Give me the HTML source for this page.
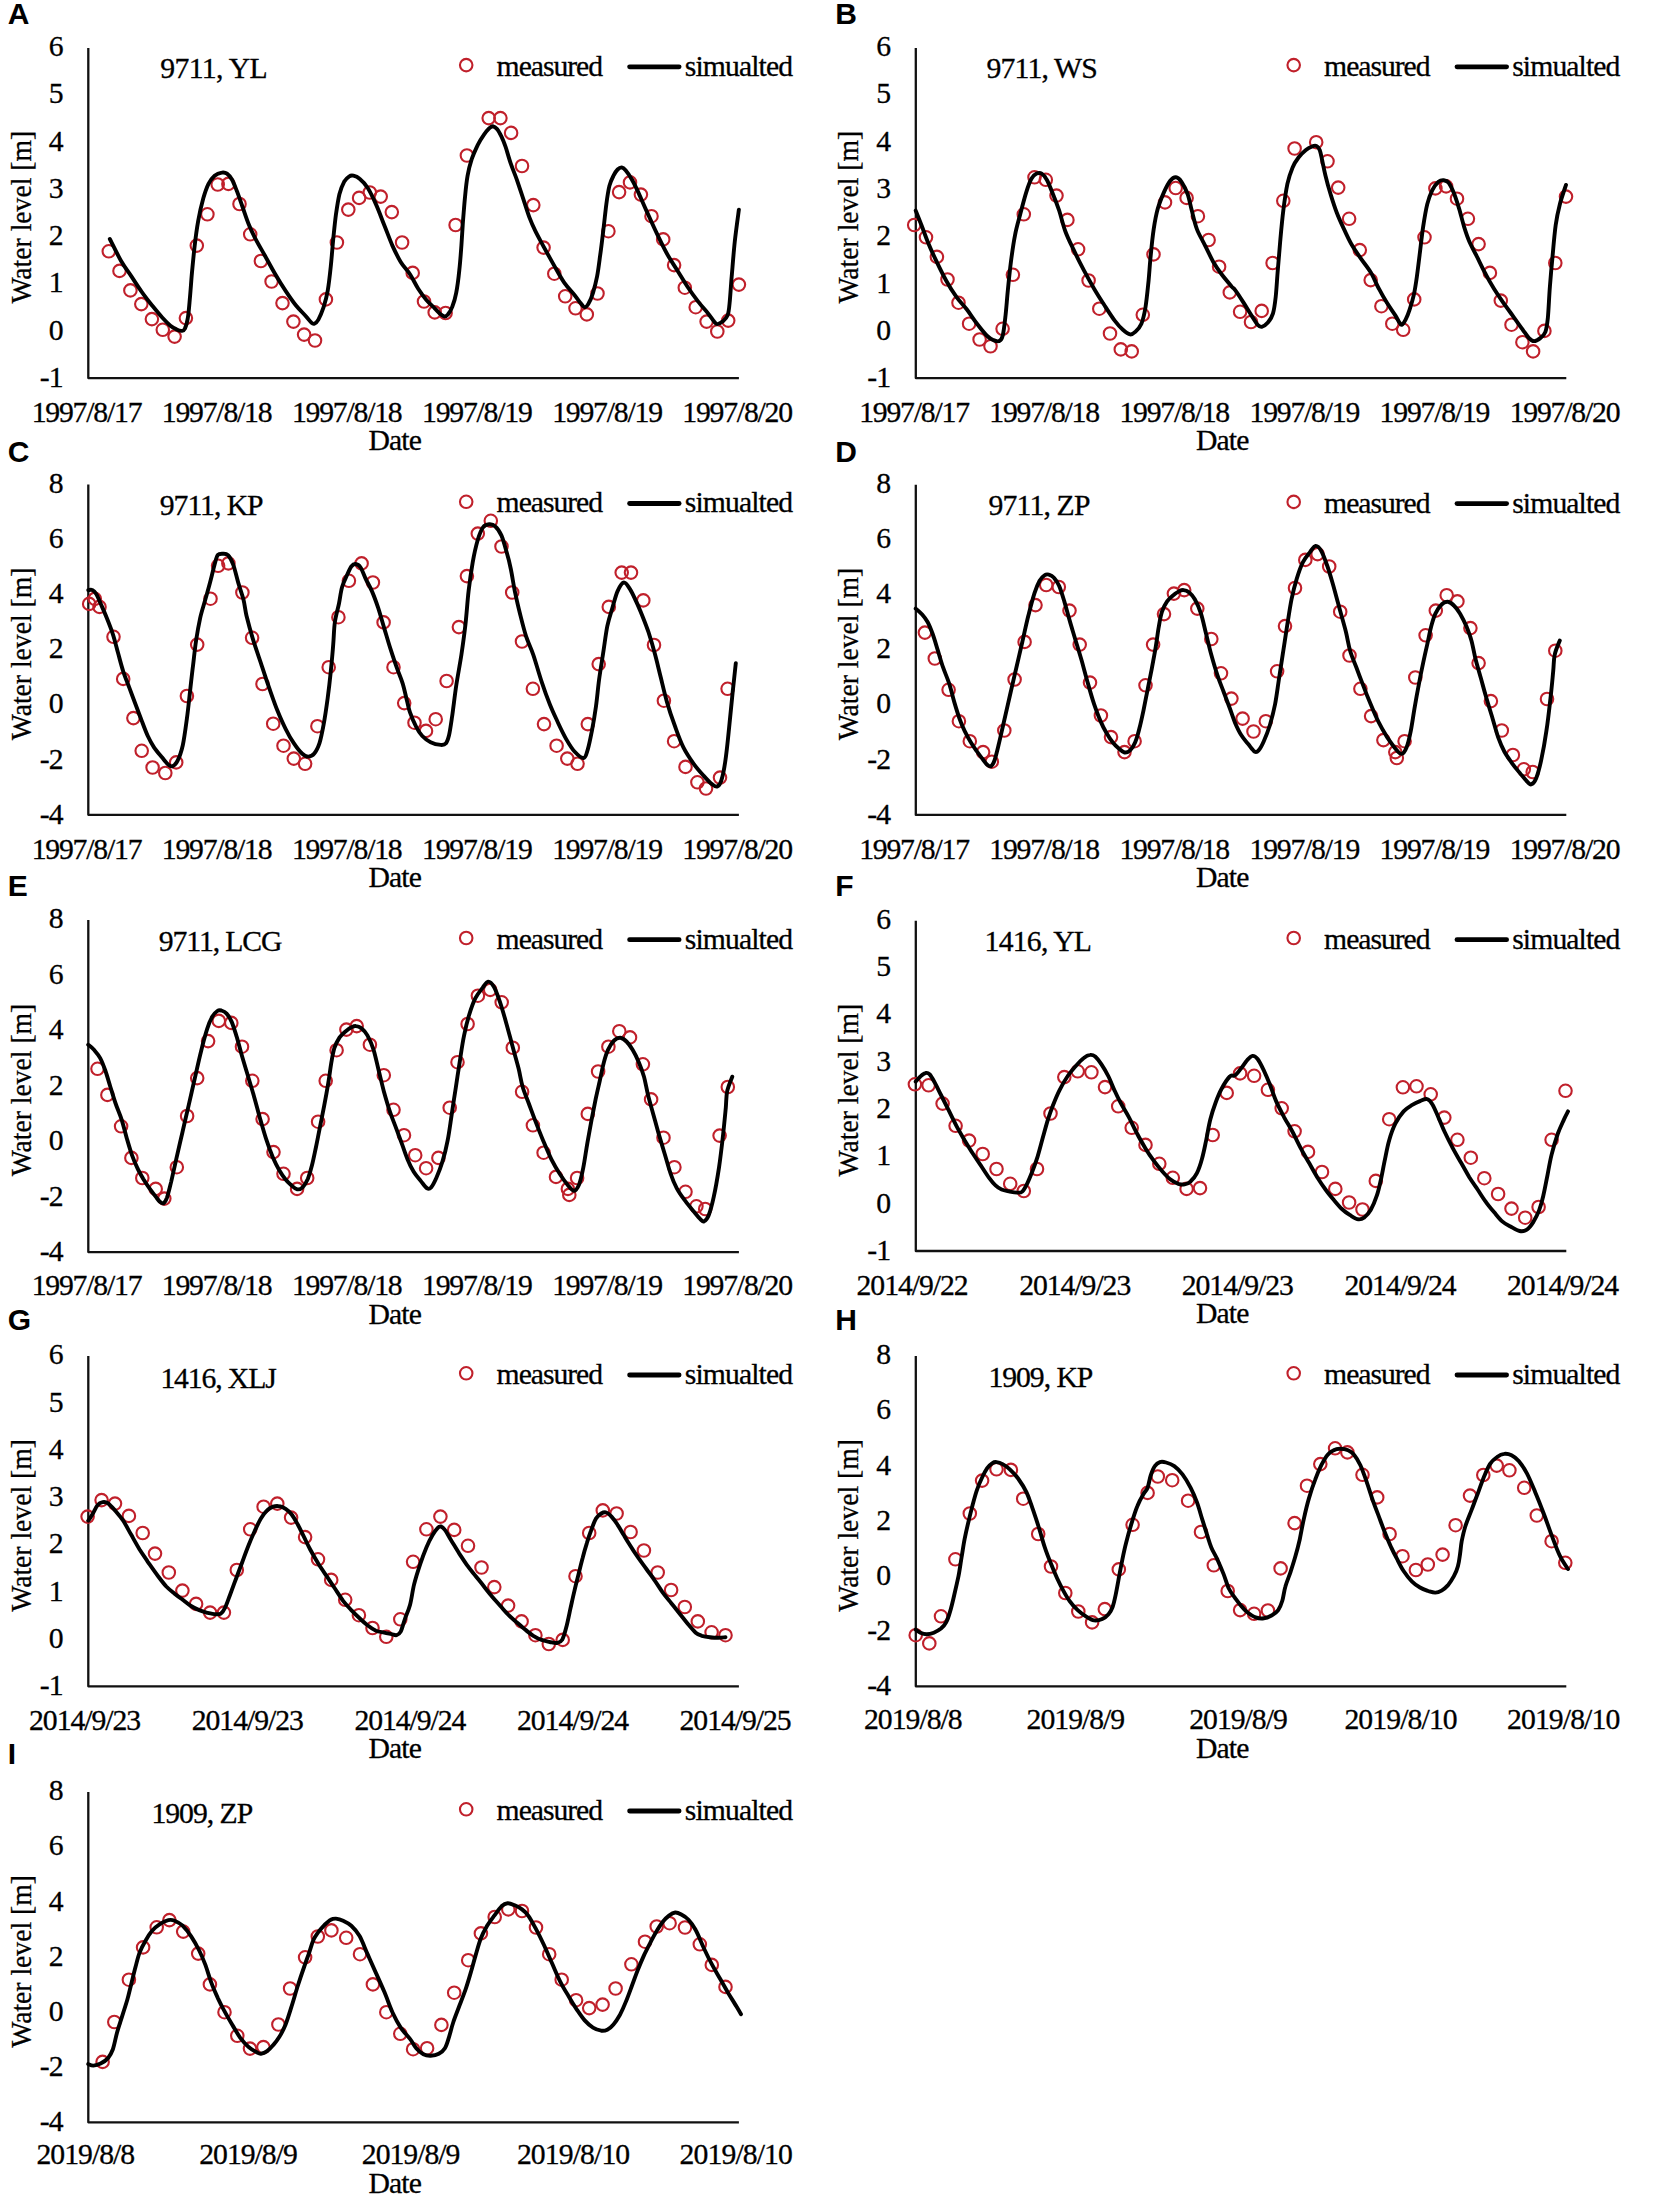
<!DOCTYPE html>
<html lang="en"><head><meta charset="utf-8"><title>Water level: measured vs simulated</title>
<style>html,body{margin:0;padding:0;background:#fff}svg{display:block}text{font-family:"Liberation Serif", "Times New Roman", Times, serif;font-size:29.7px;fill:#000;letter-spacing:-0.9px;stroke:#000;stroke-width:0.3px}.pl{font-family:"Liberation Sans", Arial, Helvetica, sans-serif;font-weight:700;font-size:30px;letter-spacing:0;stroke:none}.ax{fill:none;stroke:#111;stroke-width:2.3;stroke-linejoin:round}.cv{fill:none;stroke:#000;stroke-width:3.9;stroke-linejoin:round;stroke-linecap:round}.lg{stroke-width:4.8}.mk{fill:none;stroke:#c0202b;stroke-width:2.1}</style></head><body>
<svg width="1654" height="2195" viewBox="0 0 1654 2195">
<rect width="1654" height="2195" fill="#fff"/>
<g id="panel-A">
<text class="pl" x="7.8" y="24.2">A</text>
<path class="ax" d="M88.3 47.9V378.1H738.9"/>
<text x="62.6" y="56" text-anchor="end">6</text>
<text x="62.6" y="103.2" text-anchor="end">5</text>
<text x="62.6" y="150.5" text-anchor="end">4</text>
<text x="62.6" y="197.8" text-anchor="end">3</text>
<text x="62.6" y="245.1" text-anchor="end">2</text>
<text x="62.6" y="292.4" text-anchor="end">1</text>
<text x="62.6" y="339.7" text-anchor="end">0</text>
<text x="62.6" y="386.9" text-anchor="end">-1</text>
<text transform="translate(30.7 217.2) rotate(-90)" text-anchor="middle" textLength="172.6" lengthAdjust="spacingAndGlyphs" style="font-size:29px;letter-spacing:0">Water level [m]</text>
<text x="86.5" y="421.8" text-anchor="middle" style="letter-spacing:-1.2px">1997/8/17</text>
<text x="216.6" y="421.8" text-anchor="middle" style="letter-spacing:-1.2px">1997/8/18</text>
<text x="346.7" y="421.8" text-anchor="middle" style="letter-spacing:-1.2px">1997/8/18</text>
<text x="476.8" y="421.8" text-anchor="middle" style="letter-spacing:-1.2px">1997/8/19</text>
<text x="607" y="421.8" text-anchor="middle" style="letter-spacing:-1.2px">1997/8/19</text>
<text x="737.1" y="421.8" text-anchor="middle" style="letter-spacing:-1.2px">1997/8/20</text>
<text x="368.5" y="449.8">Date</text>
<text id="tA" x="160.2" y="78.4" style="letter-spacing:-0.586px">9711, YL</text>
<circle class="mk" cx="466.2" cy="65.1" r="6.25"/>
<text x="496.6" y="75.7" style="letter-spacing:-1.05px">measured</text>
<path class="cv lg" d="M629.6 66.8H679.1"/>
<text x="684.8" y="75.7">simualted</text>
<g class="mk"><circle cx="108.8" cy="251.3" r="6.25"/><circle cx="119.5" cy="270.9" r="6.25"/><circle cx="130.4" cy="290.4" r="6.25"/><circle cx="141.3" cy="304.1" r="6.25"/><circle cx="151.9" cy="319.1" r="6.25"/><circle cx="162.8" cy="329.8" r="6.25"/><circle cx="174.6" cy="336.6" r="6.25"/><circle cx="185.9" cy="318.1" r="6.25"/><circle cx="196.8" cy="245.6" r="6.25"/><circle cx="207.4" cy="214.3" r="6.25"/><circle cx="217.7" cy="184.5" r="6.25"/><circle cx="228.4" cy="183.9" r="6.25"/><circle cx="239.5" cy="204" r="6.25"/><circle cx="250.2" cy="234.3" r="6.25"/><circle cx="260.9" cy="261" r="6.25"/><circle cx="271.6" cy="281.5" r="6.25"/><circle cx="282.5" cy="303.1" r="6.25"/><circle cx="293.4" cy="321.6" r="6.25"/><circle cx="304.1" cy="334.6" r="6.25"/><circle cx="315" cy="340.5" r="6.25"/><circle cx="325.9" cy="299.4" r="6.25"/><circle cx="336.9" cy="242.5" r="6.25"/><circle cx="348.3" cy="209.6" r="6.25"/><circle cx="359.1" cy="197.9" r="6.25"/><circle cx="369.8" cy="192.5" r="6.25"/><circle cx="380.7" cy="196.6" r="6.25"/><circle cx="391.8" cy="212.1" r="6.25"/><circle cx="402.1" cy="242.5" r="6.25"/><circle cx="412.7" cy="272.9" r="6.25"/><circle cx="424" cy="301.5" r="6.25"/><circle cx="434.7" cy="312.4" r="6.25"/><circle cx="445.6" cy="313" r="6.25"/><circle cx="455.6" cy="225" r="6.25"/><circle cx="466.9" cy="155.5" r="6.25"/><circle cx="488.7" cy="118.1" r="6.25"/><circle cx="500.4" cy="118.1" r="6.25"/><circle cx="511.1" cy="132.9" r="6.25"/><circle cx="522" cy="166" r="6.25"/><circle cx="533.3" cy="205.1" r="6.25"/><circle cx="543.6" cy="247.6" r="6.25"/><circle cx="554.3" cy="273.7" r="6.25"/><circle cx="565.2" cy="296.3" r="6.25"/><circle cx="575.5" cy="308.3" r="6.25"/><circle cx="586.8" cy="314.4" r="6.25"/><circle cx="597.5" cy="293.5" r="6.25"/><circle cx="608.4" cy="231.2" r="6.25"/><circle cx="619.1" cy="192.1" r="6.25"/><circle cx="630" cy="182.4" r="6.25"/><circle cx="640.9" cy="194.6" r="6.25"/><circle cx="651.5" cy="216.2" r="6.25"/><circle cx="663.2" cy="239.4" r="6.25"/><circle cx="674.1" cy="265.1" r="6.25"/><circle cx="684.8" cy="287.7" r="6.25"/><circle cx="695.7" cy="307.2" r="6.25"/><circle cx="706.6" cy="321.6" r="6.25"/><circle cx="717.3" cy="331.5" r="6.25"/><circle cx="728.2" cy="320.6" r="6.25"/><circle cx="738.9" cy="284.6" r="6.25"/></g>
<path class="cv" d="M109.8 239C111.7 242.6 117.5 254.7 121.1 261C124.7 267.2 128 271.3 131.4 276.4C134.8 281.5 138.2 287 141.7 291.8C145.1 296.6 148.5 300.9 151.9 305.2C155.4 309.5 159.1 314.1 162.2 317.5C165.3 320.9 168.1 323.7 170.4 325.7C172.8 327.7 174.7 328.6 176.6 329.4C178.5 330.3 180.4 331 181.8 330.9C183.1 330.8 183.8 331 184.8 328.8C185.9 326.6 187.1 322.8 187.9 317.5C188.8 312.2 189.3 304.5 190 296.9C190.7 289.4 191.2 280.9 192 272.3C192.8 263.7 193.7 254.1 194.7 245.6C195.7 237 196.8 228.8 198.2 220.9C199.6 213 201.6 204.4 203.3 198.3C205.1 192.1 206.6 187.7 208.5 183.9C210.4 180.1 212.4 177.6 214.6 175.7C216.9 173.8 219.8 172.9 221.8 172.6C223.9 172.2 225.3 172.4 227 173.6C228.7 174.8 230.4 176.7 232.1 179.8C233.8 182.9 235.5 187.7 237.3 192.1C239 196.6 240.5 201.2 242.4 206.5C244.3 211.8 246.5 218.8 248.6 224C250.6 229.1 252 232 254.7 237.3C257.5 242.7 261.6 249.7 265 255.8C268.4 262 271.9 268.5 275.3 274.3C278.7 280.2 282.1 285.7 285.6 290.8C289 295.9 292.4 300.9 295.8 305.2C299.3 309.5 303.6 313.6 306.1 316.5C308.7 319.4 309.9 321.4 311.3 322.6C312.6 323.8 313.1 324.2 314.3 323.7C315.5 323.2 316.9 322.3 318.4 319.6C320 316.8 322 312 323.6 307.2C325.1 302.4 326.5 297.6 327.7 290.8C328.9 283.9 329.9 274.7 330.8 266.1C331.7 257.6 332.4 248 333.2 239.4C334.1 230.8 334.9 222.3 335.9 214.7C337 207.2 338.1 199.7 339.4 194.2C340.8 188.7 342.5 184.8 344.1 181.8C345.8 178.9 347.7 177.3 349.3 176.3C350.8 175.3 351.7 175.3 353.4 175.7C355.1 176.1 357.2 176.7 359.6 178.8C362 180.8 365 183.7 367.8 188C370.5 192.3 373.3 198.3 376 204.4C378.8 210.6 381.5 218.2 384.2 225C387 231.9 389.7 239.4 392.4 245.6C395.2 251.7 397.8 257.2 400.7 262C403.6 266.8 407.1 269.9 410 274.3C412.9 278.8 415.5 284.4 418.2 288.7C421 293 423.7 296.8 426.4 300C429.2 303.3 432.3 305.9 434.7 308.3C437.1 310.7 439.2 313.1 440.8 314.4C442.5 315.8 443.3 316.5 444.5 316.5C445.7 316.5 446.8 316 448 314.4C449.3 312.9 450.8 310.8 452.1 307.2C453.5 303.6 455.1 299 456.2 292.8C457.4 286.7 458.5 278.1 459.3 270.2C460.2 262.4 460.8 253.8 461.4 245.6C462 237.3 462.4 229.1 463 220.9C463.7 212.7 464.3 203.8 465.1 196.2C465.8 188.7 466.5 181.8 467.6 175.7C468.7 169.5 470 164.4 471.7 159.2C473.4 154.1 475.8 149 477.8 144.8C479.9 140.7 482.1 137.3 484 134.6C485.9 131.8 487.7 129.8 489.1 128.4C490.6 127 491.5 126.2 492.8 126.3C494.2 126.5 495.9 127.7 497.4 129.4C498.8 131.1 500.1 133.7 501.5 136.6C502.9 139.5 504 142.4 505.6 146.9C507.1 151.3 508.8 157.9 510.7 163.3C512.6 168.8 514.8 174 516.9 179.8C518.9 185.6 521 192.1 523.1 198.3C525.1 204.4 527.2 211.3 529.2 216.8C531.3 222.3 533 226.2 535.4 231.2C537.8 236.1 540.5 240.9 543.6 246.6C546.7 252.2 550.5 259.1 553.9 265.1C557.3 271.1 560.7 277.6 564.2 282.6C567.6 287.5 571.7 291.5 574.5 294.9C577.2 298.3 578.9 301.1 580.6 303.1C582.3 305.2 583.4 307.2 584.7 307.2C586.1 307.2 587.5 305.5 588.8 303.1C590.2 300.7 591.6 297.3 593 292.8C594.3 288.4 595.9 282.6 597.1 276.4C598.3 270.2 599.1 263.4 600.1 255.8C601.2 248.3 602.2 239.7 603.2 231.2C604.3 222.6 605.3 212 606.3 204.4C607.3 196.9 608.2 190.7 609.4 185.9C610.6 181.2 612.1 178.4 613.5 175.7C614.9 172.9 616.2 170.9 617.6 169.5C619 168.1 620.4 167.3 621.7 167.4C623.1 167.6 624.1 168.5 625.8 170.5C627.6 172.6 630 176.2 632 179.8C634.1 183.4 635.8 187 638.2 192.1C640.6 197.3 643.3 203.8 646.4 210.6C649.5 217.5 653.2 226 656.7 233.2C660.1 240.4 663.5 247.6 667 253.8C670.4 259.9 673.8 264.7 677.2 270.2C680.7 275.7 684.1 281.5 687.5 286.7C690.9 291.8 694.4 296.6 697.8 301.1C701.2 305.5 705.3 310 708.1 313.4C710.8 316.8 712.7 319.8 714.2 321.6C715.8 323.4 716 324.1 717.3 324.1C718.7 324.1 720.7 323.1 722.5 321.6C724.2 320.2 726.4 318.5 727.6 315.4C728.8 312.4 729 309.6 729.6 303.1C730.3 296.6 730.8 286.7 731.7 276.4C732.6 266.1 733.6 252.6 734.8 241.4C736 230.3 738.2 214.9 738.9 209.6"/>
</g>
<g id="panel-B">
<text class="pl" x="835.2" y="24.2">B</text>
<path class="ax" d="M915.8 47.9V378.1H1566.3"/>
<text x="890.1" y="56" text-anchor="end">6</text>
<text x="890.1" y="103.3" text-anchor="end">5</text>
<text x="890.1" y="150.6" text-anchor="end">4</text>
<text x="890.1" y="197.9" text-anchor="end">3</text>
<text x="890.1" y="245.2" text-anchor="end">2</text>
<text x="890.1" y="292.5" text-anchor="end">1</text>
<text x="890.1" y="339.8" text-anchor="end">0</text>
<text x="890.1" y="387" text-anchor="end">-1</text>
<text transform="translate(858.1 217.2) rotate(-90)" text-anchor="middle" textLength="172.6" lengthAdjust="spacingAndGlyphs" style="font-size:29px;letter-spacing:0">Water level [m]</text>
<text x="914" y="421.8" text-anchor="middle" style="letter-spacing:-1.2px">1997/8/17</text>
<text x="1044.1" y="421.8" text-anchor="middle" style="letter-spacing:-1.2px">1997/8/18</text>
<text x="1174.2" y="421.8" text-anchor="middle" style="letter-spacing:-1.2px">1997/8/18</text>
<text x="1304.3" y="421.8" text-anchor="middle" style="letter-spacing:-1.2px">1997/8/19</text>
<text x="1434.4" y="421.8" text-anchor="middle" style="letter-spacing:-1.2px">1997/8/19</text>
<text x="1564.5" y="421.8" text-anchor="middle" style="letter-spacing:-1.2px">1997/8/20</text>
<text x="1196" y="449.9">Date</text>
<text id="tB" x="986.6" y="78.4" style="letter-spacing:-0.857px">9711, WS</text>
<circle class="mk" cx="1293.7" cy="65.1" r="6.25"/>
<text x="1324.1" y="75.8" style="letter-spacing:-1.05px">measured</text>
<path class="cv lg" d="M1457 66.8H1506.6"/>
<text x="1512.2" y="75.8">simualted</text>
<g class="mk"><circle cx="914.2" cy="225" r="6.25"/><circle cx="926" cy="237.3" r="6.25"/><circle cx="936.9" cy="256.9" r="6.25"/><circle cx="947.5" cy="279.5" r="6.25"/><circle cx="958.5" cy="302.7" r="6.25"/><circle cx="969.1" cy="323.7" r="6.25"/><circle cx="979.6" cy="339.5" r="6.25"/><circle cx="990.5" cy="346.3" r="6.25"/><circle cx="1002.6" cy="328.8" r="6.25"/><circle cx="1012.9" cy="274.8" r="6.25"/><circle cx="1023.8" cy="214.3" r="6.25"/><circle cx="1034.5" cy="177.3" r="6.25"/><circle cx="1045.8" cy="179.8" r="6.25"/><circle cx="1056.5" cy="195.6" r="6.25"/><circle cx="1067.4" cy="219.9" r="6.25"/><circle cx="1078.1" cy="249.3" r="6.25"/><circle cx="1088.6" cy="280.5" r="6.25"/><circle cx="1099.3" cy="308.7" r="6.25"/><circle cx="1110" cy="333.5" r="6.25"/><circle cx="1120.8" cy="349.4" r="6.25"/><circle cx="1131.7" cy="351.4" r="6.25"/><circle cx="1142.8" cy="314.8" r="6.25"/><circle cx="1153.5" cy="254.4" r="6.25"/><circle cx="1165" cy="202.4" r="6.25"/><circle cx="1175.7" cy="188" r="6.25"/><circle cx="1186.6" cy="197.9" r="6.25"/><circle cx="1197.9" cy="216.2" r="6.25"/><circle cx="1208.6" cy="240" r="6.25"/><circle cx="1219.1" cy="266.7" r="6.25"/><circle cx="1229.8" cy="292.4" r="6.25"/><circle cx="1240.1" cy="311.8" r="6.25"/><circle cx="1251" cy="322" r="6.25"/><circle cx="1261.7" cy="310.9" r="6.25"/><circle cx="1272.6" cy="263" r="6.25"/><circle cx="1283.3" cy="200.8" r="6.25"/><circle cx="1294.6" cy="148.5" r="6.25"/><circle cx="1316.2" cy="142.2" r="6.25"/><circle cx="1327.5" cy="161.3" r="6.25"/><circle cx="1338.2" cy="187.6" r="6.25"/><circle cx="1349.1" cy="218.8" r="6.25"/><circle cx="1359.8" cy="250.1" r="6.25"/><circle cx="1370.7" cy="280.1" r="6.25"/><circle cx="1381.4" cy="306.2" r="6.25"/><circle cx="1392.3" cy="323.7" r="6.25"/><circle cx="1403.2" cy="329.8" r="6.25"/><circle cx="1414.2" cy="299.4" r="6.25"/><circle cx="1424.5" cy="237.3" r="6.25"/><circle cx="1435.4" cy="188.4" r="6.25"/><circle cx="1446.1" cy="186.4" r="6.25"/><circle cx="1457" cy="198.7" r="6.25"/><circle cx="1467.9" cy="218.8" r="6.25"/><circle cx="1478.6" cy="244.1" r="6.25"/><circle cx="1489.9" cy="272.9" r="6.25"/><circle cx="1500.8" cy="300.6" r="6.25"/><circle cx="1511.5" cy="324.7" r="6.25"/><circle cx="1522.4" cy="342.2" r="6.25"/><circle cx="1533.1" cy="351.4" r="6.25"/><circle cx="1544.4" cy="330.9" r="6.25"/><circle cx="1555.3" cy="263" r="6.25"/><circle cx="1566" cy="196.6" r="6.25"/></g>
<path class="cv" d="M915.7 210.6C916.6 213 919.5 219.9 921.4 225C923.4 230.1 925.2 235.6 927.6 241.4C930 247.3 932.7 253.4 935.8 259.9C938.9 266.5 942.7 274.3 946.1 280.5C949.5 286.7 953 292.2 956.4 296.9C959.8 301.7 963.2 304.8 966.7 309.3C970.1 313.7 973.5 319.2 977 323.7C980.4 328.1 984.5 333.3 987.2 336C990 338.8 991.4 339.3 993.4 340.1C995.4 341 997.6 341.8 999.1 341.1C1000.7 340.5 1001.6 339.9 1002.6 336C1003.7 332.1 1004.5 325 1005.3 317.5C1006.2 310 1006.9 300 1007.8 290.8C1008.7 281.5 1009.7 271.3 1010.9 262C1012.1 252.8 1013.4 243.2 1015 235.3C1016.5 227.4 1018.2 221.9 1020.1 214.7C1022 207.5 1024.4 198.1 1026.3 192.1C1028.2 186.1 1029.7 181.8 1031.4 178.8C1033.1 175.7 1034.8 174.5 1036.6 173.6C1038.3 172.8 1040 172.6 1041.7 173.6C1043.4 174.6 1045 176.4 1046.8 179.8C1048.7 183.2 1050.9 189 1053 194.2C1055.1 199.3 1057.1 204.5 1059.2 210.6C1061.2 216.8 1062.9 224.7 1065.3 231.2C1067.7 237.7 1070.5 243.2 1073.6 249.7C1076.6 256.2 1080.4 263.7 1083.8 270.2C1087.3 276.7 1090.7 282.9 1094.1 288.7C1097.5 294.6 1101 299.9 1104.4 305.2C1107.8 310.5 1111.6 316.5 1114.7 320.6C1117.8 324.7 1120.3 327.5 1122.9 329.8C1125.5 332.1 1128 334 1130.1 334.4C1132.1 334.7 1133.3 333.7 1135.2 331.9C1137.1 330.1 1139.7 327.8 1141.4 323.7C1143.1 319.6 1144.3 314.4 1145.5 307.2C1146.7 300 1147.7 289.1 1148.6 280.5C1149.4 271.9 1149.8 264.4 1150.7 255.8C1151.5 247.3 1152.5 237 1153.7 229.1C1154.9 221.2 1156.1 214.7 1157.8 208.6C1159.6 202.4 1162 196.7 1164 192.1C1166.1 187.5 1168.2 183.3 1170.2 180.8C1172.2 178.3 1174 177.1 1175.9 177.3C1177.8 177.5 1179.5 179 1181.5 181.8C1183.4 184.6 1185.9 189.4 1187.7 194.2C1189.4 199 1190.2 204.8 1191.8 210.6C1193.3 216.4 1194.7 223.3 1196.9 229.1C1199.1 234.9 1202.4 240.1 1205.1 245.6C1207.9 251 1210.6 257.2 1213.3 262C1216.1 266.8 1218.5 270.2 1221.6 274.3C1224.7 278.4 1229.6 284.1 1231.8 286.7C1234.1 289.2 1233.1 287.2 1235 289.8C1236.9 292.3 1240.5 297.8 1243.2 302.1C1246 306.4 1249 311.7 1251.4 315.4C1253.8 319.2 1255.9 322.8 1257.6 324.7C1259.3 326.6 1260 327.1 1261.7 326.8C1263.4 326.4 1266 324.9 1267.9 322.6C1269.8 320.4 1271.7 317.7 1273 313.4C1274.3 309.1 1274.9 304.1 1275.7 296.9C1276.5 289.8 1277 279.5 1277.8 270.2C1278.5 261 1279.3 251.4 1280.2 241.4C1281.1 231.5 1282.1 220.2 1283.3 210.6C1284.5 201 1285.9 191.1 1287.4 183.9C1289 176.7 1290.7 171.9 1292.6 167.4C1294.4 163 1296.5 160.1 1298.7 157.2C1300.9 154.3 1303.7 151.8 1305.9 150C1308.1 148.2 1310.4 147.2 1312.1 146.5C1313.8 145.8 1314.9 145.3 1316.2 145.9C1317.5 146.4 1318.7 147.4 1319.7 150C1320.7 152.5 1321.4 157 1322.4 161.3C1323.3 165.6 1324.1 170.2 1325.5 175.7C1326.8 181.2 1328.7 188 1330.6 194.2C1332.5 200.3 1334.5 206.8 1336.8 212.7C1339 218.5 1341.4 223.6 1344 229.1C1346.5 234.6 1349.4 240.8 1352.2 245.6C1354.9 250.4 1357.3 253.4 1360.4 257.9C1363.5 262.4 1367.6 267.2 1370.7 272.3C1373.8 277.4 1376.1 283.6 1378.9 288.7C1381.6 293.9 1384.4 298.7 1387.1 303.1C1389.9 307.6 1393.3 312.2 1395.3 315.4C1397.4 318.7 1398.4 321.1 1399.5 322.6C1400.5 324.2 1400.9 325.2 1401.9 324.7C1402.9 324.2 1404.3 322.1 1405.6 319.6C1406.9 317 1408.4 313.4 1409.7 309.3C1411.1 305.2 1412.6 300.4 1413.8 294.9C1415 289.4 1415.9 283.6 1416.9 276.4C1417.9 269.2 1419 260 1420 251.7C1421 243.5 1421.9 234.9 1423.1 227.1C1424.3 219.2 1425.7 210.6 1427.2 204.4C1428.7 198.3 1430.5 193.8 1432.3 190.1C1434.2 186.3 1436.6 183.5 1438.5 181.8C1440.4 180.2 1441.9 180 1443.7 180.2C1445.4 180.4 1447.1 180.7 1448.8 182.9C1450.5 185 1452.2 188.9 1453.9 193.1C1455.6 197.4 1457.3 202.9 1459.1 208.6C1460.8 214.2 1462.5 221.6 1464.2 227.1C1465.9 232.5 1467.1 236.3 1469.3 241.4C1471.6 246.6 1474.8 252.4 1477.6 257.9C1480.3 263.4 1483 269.2 1485.8 274.3C1488.5 279.5 1491.3 284.3 1494 288.7C1496.8 293.2 1499.1 296.6 1502.2 301.1C1505.3 305.5 1509.1 310.7 1512.5 315.4C1515.9 320.2 1520 326.1 1522.8 329.8C1525.5 333.6 1527.1 336.2 1529 338.1C1530.8 340 1532.2 341.1 1534.1 341.1C1536 341.1 1538.4 339.6 1540.3 338.1C1542.1 336.5 1544.1 335.3 1545.4 331.9C1546.7 328.5 1547.1 325 1547.9 317.5C1548.6 310 1549.1 296.9 1549.9 286.7C1550.7 276.4 1551.6 266.1 1552.6 255.8C1553.5 245.6 1554.5 233.6 1555.7 225C1556.9 216.4 1558.1 211.1 1559.8 204.4C1561.5 197.8 1564.9 188.2 1566 184.9"/>
</g>
<g id="panel-C">
<text class="pl" x="7.8" y="462">C</text>
<path class="ax" d="M88.3 484.6V814.8H738.9"/>
<text x="62.6" y="492.7" text-anchor="end">8</text>
<text x="62.6" y="547.9" text-anchor="end">6</text>
<text x="62.6" y="603" text-anchor="end">4</text>
<text x="62.6" y="658.2" text-anchor="end">2</text>
<text x="62.6" y="713.4" text-anchor="end">0</text>
<text x="62.6" y="768.5" text-anchor="end">-2</text>
<text x="62.6" y="823.7" text-anchor="end">-4</text>
<text transform="translate(30.7 653.9) rotate(-90)" text-anchor="middle" textLength="172.6" lengthAdjust="spacingAndGlyphs" style="font-size:29px;letter-spacing:0">Water level [m]</text>
<text x="86.5" y="858.5" text-anchor="middle" style="letter-spacing:-1.2px">1997/8/17</text>
<text x="216.6" y="858.5" text-anchor="middle" style="letter-spacing:-1.2px">1997/8/18</text>
<text x="346.7" y="858.5" text-anchor="middle" style="letter-spacing:-1.2px">1997/8/18</text>
<text x="476.8" y="858.5" text-anchor="middle" style="letter-spacing:-1.2px">1997/8/19</text>
<text x="607" y="858.5" text-anchor="middle" style="letter-spacing:-1.2px">1997/8/19</text>
<text x="737.1" y="858.5" text-anchor="middle" style="letter-spacing:-1.2px">1997/8/20</text>
<text x="368.5" y="886.5">Date</text>
<text id="tC" x="159.8" y="515" style="letter-spacing:-1.043px">9711, KP</text>
<circle class="mk" cx="466.2" cy="501.8" r="6.25"/>
<text x="496.6" y="512.4" style="letter-spacing:-1.05px">measured</text>
<path class="cv lg" d="M629.6 503.5H679.1"/>
<text x="684.8" y="512.4">simualted</text>
<g class="mk"><circle cx="89.2" cy="603.9" r="6.25"/><circle cx="94.8" cy="598.9" r="6.25"/><circle cx="99.5" cy="606.9" r="6.25"/><circle cx="113.5" cy="636.8" r="6.25"/><circle cx="123.2" cy="678.9" r="6.25"/><circle cx="133.4" cy="718.1" r="6.25"/><circle cx="141.7" cy="750.8" r="6.25"/><circle cx="152.6" cy="767.5" r="6.25"/><circle cx="165.3" cy="773" r="6.25"/><circle cx="176.2" cy="762.4" r="6.25"/><circle cx="186.9" cy="696" r="6.25"/><circle cx="197.2" cy="644.6" r="6.25"/><circle cx="210.5" cy="598.7" r="6.25"/><circle cx="218.1" cy="565.8" r="6.25"/><circle cx="228.4" cy="563.4" r="6.25"/><circle cx="242.4" cy="592.5" r="6.25"/><circle cx="252.1" cy="637.8" r="6.25"/><circle cx="262.5" cy="684" r="6.25"/><circle cx="273.2" cy="723.7" r="6.25"/><circle cx="283.5" cy="745.7" r="6.25"/><circle cx="293.8" cy="758.6" r="6.25"/><circle cx="305.1" cy="763.8" r="6.25"/><circle cx="317.4" cy="726.2" r="6.25"/><circle cx="328.7" cy="667.2" r="6.25"/><circle cx="338.4" cy="617.2" r="6.25"/><circle cx="348.9" cy="580.8" r="6.25"/><circle cx="361.6" cy="563.4" r="6.25"/><circle cx="372.9" cy="582.5" r="6.25"/><circle cx="383.6" cy="622.4" r="6.25"/><circle cx="393.5" cy="667.2" r="6.25"/><circle cx="404.2" cy="703.1" r="6.25"/><circle cx="414.5" cy="722.7" r="6.25"/><circle cx="426" cy="730.9" r="6.25"/><circle cx="435.7" cy="719.2" r="6.25"/><circle cx="446.6" cy="681" r="6.25"/><circle cx="458.9" cy="627.1" r="6.25"/><circle cx="466.9" cy="576.1" r="6.25"/><circle cx="477.8" cy="533.6" r="6.25"/><circle cx="490.8" cy="520.8" r="6.25"/><circle cx="501.5" cy="546.5" r="6.25"/><circle cx="512.2" cy="592.5" r="6.25"/><circle cx="522" cy="641.5" r="6.25"/><circle cx="532.9" cy="688.8" r="6.25"/><circle cx="544" cy="724.1" r="6.25"/><circle cx="556.6" cy="745.7" r="6.25"/><circle cx="567.3" cy="758.6" r="6.25"/><circle cx="577.5" cy="763.8" r="6.25"/><circle cx="587.8" cy="724.1" r="6.25"/><circle cx="598.7" cy="664.1" r="6.25"/><circle cx="608.8" cy="606.9" r="6.25"/><circle cx="621.7" cy="572.6" r="6.25"/><circle cx="631" cy="572.6" r="6.25"/><circle cx="643.3" cy="600.4" r="6.25"/><circle cx="654" cy="645" r="6.25"/><circle cx="663.9" cy="700.7" r="6.25"/><circle cx="674.1" cy="741.2" r="6.25"/><circle cx="685.5" cy="766.9" r="6.25"/><circle cx="697.4" cy="782.3" r="6.25"/><circle cx="706" cy="788.5" r="6.25"/><circle cx="720" cy="777.6" r="6.25"/><circle cx="727.6" cy="688.8" r="6.25"/></g>
<path class="cv" d="M88.2 590.1C88.9 590.1 91 589.4 92.3 590.1C93.7 590.8 95.1 592 96.4 594.2C97.8 596.4 98.8 599.5 100.6 603.5C102.3 607.4 104.7 612.7 106.7 617.8C108.8 623 111 628.5 112.9 634.3C114.8 640.1 116.3 646.6 118 652.8C119.7 658.9 121.3 665.5 123.2 671.3C125.1 677.1 127.3 682.2 129.3 687.7C131.4 693.2 133.4 698.7 135.5 704.2C137.6 709.7 139.6 715.3 141.7 720.6C143.7 725.9 145.8 731.6 147.8 736C149.9 740.5 151.6 743.7 154 747.3C156.4 750.9 159.8 754.7 162.2 757.6C164.6 760.5 166.7 763.4 168.4 764.8C170.1 766.2 171 766.9 172.5 766.2C174 765.6 175.9 764.2 177.6 760.7C179.4 757.2 181.2 752.3 182.8 745.3C184.3 738.3 185.7 727.5 186.9 718.6C188.1 709.7 189 700.7 190 691.8C191 682.9 192 673.7 193.1 665.1C194.1 656.6 194.9 648.3 196.1 640.5C197.3 632.6 198.7 624.7 200.2 617.8C201.8 611 203.7 605.5 205.4 599.3C207.1 593.2 209 586.7 210.5 580.8C212.1 575 213.4 568.7 214.6 564.4C215.8 560.1 216.4 556.9 217.7 555.1C219.1 553.4 221.2 553.7 222.9 553.7C224.6 553.7 226.3 553.4 228 555.1C229.7 556.9 231.4 559.8 233.1 564.4C234.9 569 236.6 577.1 238.3 582.9C240 588.7 242 593.9 243.4 599.3C244.8 604.8 245 609.3 246.5 615.8C248.1 622.3 250.3 630.5 252.7 638.4C255.1 646.3 258.1 654.8 260.9 663.1C263.6 671.3 266.4 679.9 269.1 687.7C271.9 695.6 274.6 703.5 277.3 710.3C280.1 717.2 282.8 723.4 285.6 728.8C288.3 734.3 291 739.1 293.8 743.2C296.5 747.3 299.6 751.3 302 753.5C304.4 755.7 306.1 756.6 308.2 756.6C310.2 756.6 312.5 755.7 314.3 753.5C316.2 751.3 317.9 748 319.5 743.2C321 738.4 322.2 732.3 323.6 724.7C325 717.2 326.5 706.9 327.7 698C328.9 689.1 329.9 680.2 330.8 671.3C331.7 662.4 332.6 652.8 333.2 644.6C333.9 636.3 333.9 628.8 334.9 622C335.9 615.1 337.8 609.3 339 603.5C340.2 597.6 340.7 591.8 342.1 587C343.5 582.2 345.7 578.1 347.2 574.7C348.8 571.2 350 568.2 351.3 566.5C352.7 564.7 353.9 563.8 355.4 564C357 564.2 358.9 565 360.6 567.5C362.3 569.9 363.8 574.8 365.7 578.8C367.6 582.7 369.8 586.3 371.9 591.1C374 595.9 376 601.4 378.1 607.6C380.1 613.7 382.2 621.3 384.2 628.1C386.3 635 388.3 642.2 390.4 648.7C392.5 655.2 394.5 661.3 396.6 667.2C398.6 673 401 678.1 402.7 683.6C404.4 689.1 405.6 695.3 406.8 700.1C408.1 704.9 408.4 707.9 410 712.4C411.6 716.9 414.1 722.8 416.2 726.8C418.2 730.7 419.9 733.5 422.3 736C424.7 738.6 427.5 740.7 430.6 742.2C433.6 743.7 438.3 744.7 440.8 744.9C443.4 745.1 444.6 744.9 446 743.2C447.3 741.6 448 739.5 449.1 735C450.1 730.6 450.9 724.7 452.1 716.5C453.3 708.3 454.7 695.9 456.2 685.7C457.8 675.4 459.8 665.1 461.4 654.8C462.9 644.6 464.3 634.6 465.5 624C466.7 613.4 467.4 601.4 468.6 591.1C469.8 580.8 471.2 570.9 472.7 562.3C474.2 553.8 476.1 545.5 477.8 539.7C479.6 533.9 481.1 530 483 527.4C484.9 524.8 487.1 524.5 489.1 524.3C491.2 524.1 493.3 524.5 495.3 526.4C497.4 528.2 499.6 531.3 501.5 535.6C503.4 539.9 505.1 546.6 506.6 552.1C508.2 557.5 509.4 562 510.7 568.5C512.1 575 513.3 583.6 514.8 591.1C516.4 598.6 518.1 606.2 520 613.7C521.9 621.3 523.9 629.5 526.1 636.3C528.4 643.2 530.8 647.3 533.3 654.8C535.9 662.4 538.8 673.3 541.6 681.6C544.3 689.8 547 697.3 549.8 704.2C552.5 711 555.3 716.8 558 722.7C560.7 728.5 563.5 734.3 566.2 739.1C569 743.9 571.5 748.3 574.5 751.5C577.4 754.6 581.5 758.4 583.7 758C585.9 757.7 586.4 753.9 587.8 749.4C589.2 744.9 590.5 738.1 591.9 730.9C593.3 723.7 594.8 714.8 596 706.2C597.2 697.7 597.9 688.4 599.1 679.5C600.3 670.6 601.9 661.7 603.2 652.8C604.6 643.9 605.8 633.6 607.3 626.1C608.9 618.5 610.8 613.4 612.5 607.6C614.2 601.7 615.7 595.3 617.6 591.1C619.5 586.9 621.7 582.8 623.8 582.5C625.8 582.1 627.9 585.9 630 589.1C632 592.2 634.1 596.9 636.1 601.4C638.2 605.8 640.2 610.6 642.3 615.8C644.3 620.9 646.4 626.1 648.5 632.2C650.5 638.4 652.6 645.2 654.6 652.8C656.7 660.3 658.7 669.2 660.8 677.5C662.8 685.7 664.6 693.9 667 702.1C669.3 710.3 672.4 719.3 675.2 726.8C677.9 734.3 680.3 741.2 683.4 747.3C686.5 753.5 690.3 759 693.7 763.8C697.1 768.6 700.9 772.7 704 776.1C707 779.5 710 782.6 712.2 784.3C714.4 786.1 715.8 787.1 717.3 786.4C718.9 785.7 720.1 784.7 721.4 780.2C722.8 775.8 724.2 769.3 725.5 759.7C726.9 750.1 728.5 734 729.6 722.7C730.8 711.4 731.7 701.8 732.7 691.8C733.8 681.9 735.3 667.9 735.8 663.1"/>
</g>
<g id="panel-D">
<text class="pl" x="835.2" y="462">D</text>
<path class="ax" d="M915.8 484.7V814.9H1566.3"/>
<text x="890.1" y="492.8" text-anchor="end">8</text>
<text x="890.1" y="547.9" text-anchor="end">6</text>
<text x="890.1" y="603.1" text-anchor="end">4</text>
<text x="890.1" y="658.3" text-anchor="end">2</text>
<text x="890.1" y="713.4" text-anchor="end">0</text>
<text x="890.1" y="768.6" text-anchor="end">-2</text>
<text x="890.1" y="823.8" text-anchor="end">-4</text>
<text transform="translate(858.1 654) rotate(-90)" text-anchor="middle" textLength="172.6" lengthAdjust="spacingAndGlyphs" style="font-size:29px;letter-spacing:0">Water level [m]</text>
<text x="914" y="858.6" text-anchor="middle" style="letter-spacing:-1.2px">1997/8/17</text>
<text x="1044.1" y="858.6" text-anchor="middle" style="letter-spacing:-1.2px">1997/8/18</text>
<text x="1174.2" y="858.6" text-anchor="middle" style="letter-spacing:-1.2px">1997/8/18</text>
<text x="1304.3" y="858.6" text-anchor="middle" style="letter-spacing:-1.2px">1997/8/19</text>
<text x="1434.4" y="858.6" text-anchor="middle" style="letter-spacing:-1.2px">1997/8/19</text>
<text x="1564.5" y="858.6" text-anchor="middle" style="letter-spacing:-1.2px">1997/8/20</text>
<text x="1196" y="886.6">Date</text>
<text id="tD" x="988.4" y="515" style="letter-spacing:-0.814px">9711, ZP</text>
<circle class="mk" cx="1293.7" cy="501.9" r="6.25"/>
<text x="1324.1" y="512.5" style="letter-spacing:-1.05px">measured</text>
<path class="cv lg" d="M1457 503.6H1506.6"/>
<text x="1512.2" y="512.5">simualted</text>
<g class="mk"><circle cx="924.9" cy="632.6" r="6.25"/><circle cx="934.8" cy="658.5" r="6.25"/><circle cx="948.6" cy="689.8" r="6.25"/><circle cx="958.9" cy="721.2" r="6.25"/><circle cx="969.8" cy="741.2" r="6.25"/><circle cx="983.1" cy="752.1" r="6.25"/><circle cx="991.8" cy="761.7" r="6.25"/><circle cx="1004.3" cy="730.5" r="6.25"/><circle cx="1014.6" cy="679.5" r="6.25"/><circle cx="1024.6" cy="641.9" r="6.25"/><circle cx="1035.5" cy="605.1" r="6.25"/><circle cx="1046.2" cy="585" r="6.25"/><circle cx="1058.8" cy="587" r="6.25"/><circle cx="1069.5" cy="610.6" r="6.25"/><circle cx="1079.7" cy="644.6" r="6.25"/><circle cx="1090" cy="682.6" r="6.25"/><circle cx="1100.9" cy="715.5" r="6.25"/><circle cx="1111" cy="737.1" r="6.25"/><circle cx="1124.5" cy="752.1" r="6.25"/><circle cx="1134.6" cy="741.2" r="6.25"/><circle cx="1145.5" cy="685.3" r="6.25"/><circle cx="1153.1" cy="644.6" r="6.25"/><circle cx="1164" cy="614.1" r="6.25"/><circle cx="1173.9" cy="593.6" r="6.25"/><circle cx="1184.2" cy="590.1" r="6.25"/><circle cx="1197.3" cy="608.6" r="6.25"/><circle cx="1211.3" cy="639" r="6.25"/><circle cx="1221" cy="673.3" r="6.25"/><circle cx="1231.4" cy="698.6" r="6.25"/><circle cx="1242.6" cy="718.6" r="6.25"/><circle cx="1253.5" cy="731.5" r="6.25"/><circle cx="1265.8" cy="721.2" r="6.25"/><circle cx="1277.1" cy="671.3" r="6.25"/><circle cx="1285" cy="626.1" r="6.25"/><circle cx="1295" cy="588" r="6.25"/><circle cx="1305.3" cy="559.9" r="6.25"/><circle cx="1317.6" cy="554.1" r="6.25"/><circle cx="1329.2" cy="566.5" r="6.25"/><circle cx="1340.2" cy="611.7" r="6.25"/><circle cx="1349.5" cy="655.5" r="6.25"/><circle cx="1360.4" cy="688.8" r="6.25"/><circle cx="1371.1" cy="716.1" r="6.25"/><circle cx="1383.4" cy="740.1" r="6.25"/><circle cx="1395.3" cy="752.1" r="6.25"/><circle cx="1396.8" cy="758" r="6.25"/><circle cx="1404.6" cy="741.2" r="6.25"/><circle cx="1415.3" cy="677.5" r="6.25"/><circle cx="1425.6" cy="635.3" r="6.25"/><circle cx="1435.8" cy="610.6" r="6.25"/><circle cx="1446.7" cy="595.2" r="6.25"/><circle cx="1457.4" cy="601.4" r="6.25"/><circle cx="1470.4" cy="628.1" r="6.25"/><circle cx="1478.6" cy="663.1" r="6.25"/><circle cx="1490.9" cy="701.1" r="6.25"/><circle cx="1501.8" cy="730.5" r="6.25"/><circle cx="1512.9" cy="755" r="6.25"/><circle cx="1523.8" cy="769.3" r="6.25"/><circle cx="1532.7" cy="772" r="6.25"/><circle cx="1547" cy="699" r="6.25"/><circle cx="1555.3" cy="650.7" r="6.25"/></g>
<path class="cv" d="M915.7 608.6C916.6 609.4 919.5 611.5 921.4 613.7C923.4 616 925.7 618.5 927.6 622C929.5 625.4 931 629.5 932.8 634.3C934.5 639.1 936.2 645.2 937.9 650.7C939.6 656.2 941.1 661.7 943 667.2C944.9 672.7 947.3 677.8 949.2 683.6C951.1 689.4 952.6 696.3 954.3 702.1C956 707.9 957.8 713.8 959.5 718.6C961.2 723.4 962.7 727 964.6 730.9C966.5 734.8 968.7 738.8 970.8 742.2C972.8 745.6 974.9 748.5 977 751.5C979 754.4 981.4 757.5 983.1 759.7C984.8 761.9 985.9 763.7 987.2 764.8C988.5 765.9 989.7 766.9 990.9 766.2C992.1 765.6 993.2 764.2 994.4 760.7C995.7 757.2 997 751.6 998.5 745.3C1000.1 739 1001.8 730.9 1003.7 722.7C1005.6 714.4 1007.8 704.9 1009.8 696C1011.9 687 1013.9 678.1 1016 669.2C1018.1 660.3 1020.1 651.4 1022.2 642.5C1024.2 633.6 1026.3 624 1028.3 615.8C1030.4 607.6 1032.6 599 1034.5 593.2C1036.4 587.3 1037.9 583.9 1039.6 580.8C1041.4 577.8 1043.2 576.1 1044.8 575.1C1046.3 574.1 1047.3 574.2 1048.9 574.7C1050.4 575.1 1052.3 575.9 1054 577.8C1055.7 579.6 1057.5 582 1059.2 586C1060.9 589.9 1062.6 595.7 1064.3 601.4C1066 607 1067.6 613.4 1069.5 619.9C1071.3 626.4 1073.6 633.6 1075.6 640.5C1077.7 647.3 1079.7 653.8 1081.8 661C1083.8 668.2 1085.9 676.4 1088 683.6C1090 690.8 1092.1 698 1094.1 704.2C1096.2 710.3 1098.2 715.8 1100.3 720.6C1102.3 725.4 1104.4 729.4 1106.5 733C1108.5 736.5 1110.6 739.6 1112.6 742.2C1114.7 744.8 1116.8 746.7 1118.8 748.4C1120.8 750.1 1122.7 752.1 1124.5 752.5C1126.4 752.8 1128.3 752.1 1130.1 750.4C1131.9 748.7 1133.7 745.8 1135.2 742.2C1136.8 738.6 1138 734.2 1139.3 728.8C1140.7 723.5 1142.1 716.9 1143.5 710.3C1144.8 703.8 1146.2 696.6 1147.6 689.8C1148.9 682.9 1150.3 676.4 1151.7 669.2C1153 662 1154.6 653.8 1155.8 646.6C1157 639.4 1157.8 631.9 1158.9 626.1C1159.9 620.2 1160.6 615.8 1162 611.7C1163.3 607.6 1165.2 604.1 1167.1 601.4C1169 598.6 1171.2 596.9 1173.3 595.2C1175.3 593.5 1177.7 592 1179.4 591.1C1181.1 590.3 1182 589.9 1183.5 590.1C1185.1 590.3 1186.8 590.6 1188.7 592.1C1190.6 593.7 1192.8 595.7 1194.8 599.3C1196.9 602.9 1199.1 607.9 1201 613.7C1202.9 619.6 1204.4 627.4 1206.2 634.3C1207.9 641.1 1209.4 648 1211.3 654.8C1213.2 661.7 1215.4 669.2 1217.5 675.4C1219.5 681.6 1221.6 686.4 1223.6 691.8C1225.7 697.3 1227.9 703.2 1229.8 708.3C1231.7 713.4 1233.1 718.2 1235 722.7C1236.9 727.1 1238.9 731.4 1241.2 735C1243.4 738.6 1246.1 741.5 1248.4 744.3C1250.6 747 1252.8 750.4 1254.5 751.5C1256.2 752.5 1257.1 752.1 1258.6 750.4C1260.2 748.7 1261.9 745.5 1263.8 741.2C1265.7 736.9 1268.1 730.9 1270 724.7C1271.8 718.6 1273.5 712 1275.1 704.2C1276.6 696.3 1277.8 686.4 1279.2 677.5C1280.6 668.5 1281.9 659.6 1283.3 650.7C1284.7 641.8 1286.1 632.6 1287.4 624C1288.8 615.4 1290 606.9 1291.5 599.3C1293.1 591.8 1294.8 584.9 1296.7 578.8C1298.6 572.6 1300.6 566.8 1302.8 562.3C1305.1 557.9 1307.9 554.8 1310 552.1C1312.2 549.3 1313.7 546.1 1315.6 545.9C1317.5 545.7 1319.4 547.6 1321.3 551C1323.3 554.5 1325.4 560.5 1327.5 566.5C1329.6 572.4 1331.6 579.8 1333.7 587C1335.7 594.2 1337.8 602.1 1339.8 609.6C1341.9 617.2 1344.3 625.4 1346 632.2C1347.7 639.1 1348.4 644.9 1350.1 650.7C1351.8 656.6 1354.2 661.7 1356.3 667.2C1358.3 672.7 1360.1 677.5 1362.5 683.6C1364.8 689.8 1367.9 697.7 1370.7 704.2C1373.4 710.7 1376.1 717.2 1378.9 722.7C1381.6 728.2 1384.4 732.8 1387.1 737.1C1389.9 741.3 1392.9 745.6 1395.3 748.4C1397.7 751.2 1399.6 754.1 1401.5 753.9C1403.4 753.7 1405.1 751.2 1406.6 747.3C1408.2 743.5 1409.4 737.8 1410.8 730.9C1412.1 724 1413.5 714.1 1414.9 706.2C1416.2 698.4 1417.6 690.8 1419 683.6C1420.3 676.4 1421.7 669.6 1423.1 663.1C1424.5 656.5 1425.8 650.7 1427.2 644.6C1428.6 638.4 1429.9 631.2 1431.3 626.1C1432.7 620.9 1433.7 617.3 1435.4 613.7C1437.1 610.1 1439.5 606.5 1441.6 604.5C1443.6 602.5 1445.7 601.6 1447.8 601.8C1449.8 602 1451.9 603.5 1453.9 605.5C1456 607.5 1458 610.3 1460.1 613.7C1462.1 617.2 1464.4 621.6 1466.3 626.1C1468.1 630.5 1469.9 635 1471.4 640.5C1472.9 645.9 1474 652.8 1475.5 659C1477.1 665.1 1478.9 671.3 1480.7 677.5C1482.4 683.6 1483.9 689.4 1485.8 696C1487.7 702.5 1489.9 709.7 1492 716.5C1494 723.4 1496.1 731.2 1498.1 737.1C1500.2 742.9 1501.9 747 1504.3 751.5C1506.7 755.9 1509.8 760 1512.5 763.8C1515.2 767.6 1518.2 771 1520.7 774.1C1523.3 777.2 1526.1 780.6 1527.9 782.3C1529.7 784 1530.1 785 1531.4 784.3C1532.8 783.7 1534.5 782.3 1536.2 778.2C1537.8 774.1 1539.6 767.6 1541.3 759.7C1543 751.8 1544.9 741.2 1546.4 730.9C1548 720.6 1549.4 707.9 1550.5 698C1551.7 688.1 1552.5 678.5 1553.2 671.3C1553.9 664.1 1553.6 660 1554.7 654.8C1555.7 649.7 1558.9 642.8 1559.8 640.5"/>
</g>
<g id="panel-E">
<text class="pl" x="7.8" y="895.6">E</text>
<path class="ax" d="M88.3 920.1V1252.1H738.9"/>
<text x="62.6" y="928.2" text-anchor="end">8</text>
<text x="62.6" y="983.6" text-anchor="end">6</text>
<text x="62.6" y="1039.1" text-anchor="end">4</text>
<text x="62.6" y="1094.6" text-anchor="end">2</text>
<text x="62.6" y="1150" text-anchor="end">0</text>
<text x="62.6" y="1205.5" text-anchor="end">-2</text>
<text x="62.6" y="1261" text-anchor="end">-4</text>
<text transform="translate(30.7 1090) rotate(-90)" text-anchor="middle" textLength="172.6" lengthAdjust="spacingAndGlyphs" style="font-size:29px;letter-spacing:0">Water level [m]</text>
<text x="86.5" y="1294.7" text-anchor="middle" style="letter-spacing:-1.2px">1997/8/17</text>
<text x="216.6" y="1294.7" text-anchor="middle" style="letter-spacing:-1.2px">1997/8/18</text>
<text x="346.7" y="1294.7" text-anchor="middle" style="letter-spacing:-1.2px">1997/8/18</text>
<text x="476.8" y="1294.7" text-anchor="middle" style="letter-spacing:-1.2px">1997/8/19</text>
<text x="607" y="1294.7" text-anchor="middle" style="letter-spacing:-1.2px">1997/8/19</text>
<text x="737.1" y="1294.7" text-anchor="middle" style="letter-spacing:-1.2px">1997/8/20</text>
<text x="368.5" y="1323.9">Date</text>
<text id="tE" x="158.8" y="951" style="letter-spacing:-1.100px">9711, LCG</text>
<circle class="mk" cx="466.2" cy="938" r="6.25"/>
<text x="496.6" y="948.6" style="letter-spacing:-1.05px">measured</text>
<path class="cv lg" d="M629.6 939.7H679.1"/>
<text x="684.8" y="948.6">simualted</text>
<g class="mk"><circle cx="97.5" cy="1068.8" r="6.25"/><circle cx="107.4" cy="1094.9" r="6.25"/><circle cx="121.1" cy="1126.3" r="6.25"/><circle cx="131.4" cy="1157.9" r="6.25"/><circle cx="142.3" cy="1178" r="6.25"/><circle cx="155.7" cy="1188.9" r="6.25"/><circle cx="164.3" cy="1198.6" r="6.25"/><circle cx="176.8" cy="1167.2" r="6.25"/><circle cx="187.1" cy="1116" r="6.25"/><circle cx="197.2" cy="1078.1" r="6.25"/><circle cx="208.1" cy="1041.1" r="6.25"/><circle cx="218.8" cy="1020.9" r="6.25"/><circle cx="231.3" cy="1022.9" r="6.25"/><circle cx="242" cy="1046.7" r="6.25"/><circle cx="252.3" cy="1080.8" r="6.25"/><circle cx="262.6" cy="1119.1" r="6.25"/><circle cx="273.5" cy="1152.1" r="6.25"/><circle cx="283.5" cy="1173.8" r="6.25"/><circle cx="297.1" cy="1188.9" r="6.25"/><circle cx="307.2" cy="1178" r="6.25"/><circle cx="318.1" cy="1121.7" r="6.25"/><circle cx="325.7" cy="1080.8" r="6.25"/><circle cx="336.6" cy="1050.2" r="6.25"/><circle cx="346.4" cy="1029.6" r="6.25"/><circle cx="356.7" cy="1026.1" r="6.25"/><circle cx="369.9" cy="1044.7" r="6.25"/><circle cx="383.8" cy="1075.2" r="6.25"/><circle cx="393.5" cy="1109.8" r="6.25"/><circle cx="404" cy="1135.2" r="6.25"/><circle cx="415.2" cy="1155.2" r="6.25"/><circle cx="426.1" cy="1168.2" r="6.25"/><circle cx="438.4" cy="1157.9" r="6.25"/><circle cx="449.7" cy="1107.7" r="6.25"/><circle cx="457.5" cy="1062.2" r="6.25"/><circle cx="467.6" cy="1024" r="6.25"/><circle cx="477.9" cy="995.7" r="6.25"/><circle cx="490.2" cy="989.9" r="6.25"/><circle cx="501.7" cy="1002.3" r="6.25"/><circle cx="512.8" cy="1047.7" r="6.25"/><circle cx="522.1" cy="1091.8" r="6.25"/><circle cx="532.9" cy="1125.3" r="6.25"/><circle cx="543.6" cy="1152.7" r="6.25"/><circle cx="556" cy="1176.9" r="6.25"/><circle cx="567.9" cy="1188.9" r="6.25"/><circle cx="569.3" cy="1194.9" r="6.25"/><circle cx="577.1" cy="1178" r="6.25"/><circle cx="587.8" cy="1113.9" r="6.25"/><circle cx="598.1" cy="1071.5" r="6.25"/><circle cx="608.4" cy="1046.7" r="6.25"/><circle cx="619.3" cy="1031.2" r="6.25"/><circle cx="630" cy="1037.4" r="6.25"/><circle cx="642.9" cy="1064.3" r="6.25"/><circle cx="651.1" cy="1099.4" r="6.25"/><circle cx="663.5" cy="1137.7" r="6.25"/><circle cx="674.4" cy="1167.2" r="6.25"/><circle cx="685.5" cy="1191.8" r="6.25"/><circle cx="696.4" cy="1206.3" r="6.25"/><circle cx="705.2" cy="1209" r="6.25"/><circle cx="719.6" cy="1135.6" r="6.25"/><circle cx="727.8" cy="1087" r="6.25"/></g>
<path class="cv" d="M88.2 1044.7C89.2 1045.5 92 1047.6 94 1049.8C96 1052.1 98.3 1054.6 100.2 1058.1C102 1061.5 103.6 1065.7 105.3 1070.5C107 1075.3 108.7 1081.5 110.4 1087C112.2 1092.5 113.7 1098 115.6 1103.5C117.5 1109.1 119.9 1114.2 121.8 1120.1C123.6 1125.9 125.2 1132.8 126.9 1138.7C128.6 1144.5 130.3 1150.4 132 1155.2C133.7 1160 135.3 1163.7 137.2 1167.6C139 1171.6 141.3 1175.5 143.3 1179C145.4 1182.4 147.4 1185.4 149.5 1188.3C151.6 1191.2 153.9 1194.3 155.7 1196.6C157.4 1198.8 158.5 1200.6 159.8 1201.7C161.1 1202.8 162.3 1203.9 163.5 1203.2C164.7 1202.5 165.7 1201.1 167 1197.6C168.2 1194.1 169.5 1188.5 171.1 1182.1C172.6 1175.7 174.3 1167.6 176.2 1159.4C178.1 1151.1 180.3 1141.4 182.4 1132.5C184.4 1123.5 186.5 1114.6 188.6 1105.6C190.6 1096.7 192.7 1087.7 194.7 1078.8C196.8 1069.8 198.8 1060.1 200.9 1051.9C202.9 1043.6 205.2 1035 207.1 1029.1C208.9 1023.3 210.5 1019.8 212.2 1016.8C213.9 1013.7 215.8 1012 217.3 1011C218.9 1009.9 219.9 1010.1 221.4 1010.5C223 1011 224.9 1011.7 226.6 1013.6C228.3 1015.5 230 1018 231.7 1021.9C233.4 1025.9 235.1 1031.7 236.9 1037.4C238.6 1043.1 240.1 1049.5 242 1056C243.9 1062.6 246.1 1069.8 248.2 1076.7C250.2 1083.6 252.3 1090.1 254.3 1097.4C256.4 1104.6 258.4 1112.9 260.5 1120.1C262.6 1127.3 264.6 1134.5 266.7 1140.7C268.7 1146.9 270.8 1152.5 272.8 1157.3C274.9 1162.1 276.9 1166.1 279 1169.7C281.1 1173.3 283.1 1176.4 285.2 1179C287.2 1181.6 289.3 1183.5 291.3 1185.2C293.3 1186.9 295.2 1189 297.1 1189.3C299 1189.7 300.9 1189 302.6 1187.3C304.4 1185.5 306.2 1182.6 307.8 1179C309.3 1175.4 310.5 1170.9 311.9 1165.6C313.3 1160.2 314.6 1153.5 316 1147C317.4 1140.4 318.7 1133.2 320.1 1126.3C321.5 1119.4 322.8 1112.9 324.2 1105.6C325.6 1098.4 327.1 1090.1 328.3 1082.9C329.5 1075.7 330.4 1068.1 331.4 1062.2C332.4 1056.4 333.1 1051.9 334.5 1047.7C335.9 1043.6 337.8 1040.2 339.6 1037.4C341.5 1034.7 343.8 1032.9 345.8 1031.2C347.9 1029.5 350.3 1027.9 352 1027.1C353.7 1026.2 354.5 1025.9 356.1 1026.1C357.6 1026.2 359.3 1026.6 361.2 1028.1C363.1 1029.7 365.3 1031.7 367.4 1035.4C369.4 1039 371.7 1044 373.6 1049.8C375.4 1055.7 377 1063.6 378.7 1070.5C380.4 1077.4 382 1084.3 383.8 1091.2C385.7 1098 387.9 1105.6 390 1111.8C392.1 1118 394.1 1122.8 396.2 1128.4C398.2 1133.9 400.4 1139.7 402.3 1144.9C404.2 1150.1 405.7 1154.9 407.6 1159.4C409.4 1163.8 411.5 1168.1 413.7 1171.8C415.9 1175.4 418.7 1178.3 420.9 1181.1C423.1 1183.8 425.4 1187.3 427.1 1188.3C428.8 1189.3 429.6 1189 431.2 1187.3C432.7 1185.5 434.4 1182.3 436.3 1178C438.2 1173.7 440.6 1167.6 442.5 1161.4C444.4 1155.2 446.1 1148.7 447.6 1140.7C449.2 1132.8 450.4 1122.8 451.8 1113.9C453.1 1104.9 454.5 1096 455.9 1087C457.2 1078.1 458.6 1068.8 460 1060.1C461.3 1051.5 462.5 1042.9 464.1 1035.4C465.6 1027.8 467.3 1020.9 469.2 1014.7C471.1 1008.5 473.2 1002.6 475.4 998.2C477.6 993.7 480.5 990.6 482.6 987.8C484.7 985.1 486.2 981.8 488.1 981.6C490 981.4 491.9 983.3 493.9 986.8C495.9 990.2 498 996.3 500.1 1002.3C502.1 1008.3 504.2 1015.7 506.2 1022.9C508.3 1030.2 510.3 1038.1 512.4 1045.7C514.4 1053.3 516.8 1061.5 518.6 1068.4C520.3 1075.3 520.9 1081.2 522.7 1087C524.4 1092.9 526.8 1098 528.8 1103.5C530.9 1109.1 532.6 1113.9 535 1120.1C537.4 1126.3 540.5 1134.2 543.2 1140.7C546 1147.3 548.7 1153.8 551.4 1159.4C554.2 1164.9 556.9 1169.5 559.7 1173.8C562.4 1178.1 565.5 1182.4 567.9 1185.2C570.3 1188 572.2 1190.9 574.1 1190.8C575.9 1190.6 577.6 1188 579.2 1184.2C580.7 1180.3 581.9 1174.5 583.3 1167.6C584.7 1160.7 586 1150.7 587.4 1142.8C588.8 1134.9 590.2 1127.3 591.5 1120.1C592.9 1112.9 594.3 1106 595.6 1099.4C597 1092.9 598.4 1087 599.8 1080.8C601.1 1074.6 602.5 1067.4 603.9 1062.2C605.2 1057.1 606.3 1053.4 608 1049.8C609.7 1046.2 612.1 1042.5 614.1 1040.5C616.2 1038.5 618.3 1037.7 620.3 1037.8C622.4 1038 624.4 1039.5 626.5 1041.5C628.5 1043.5 630.6 1046.4 632.6 1049.8C634.7 1053.3 636.9 1057.7 638.8 1062.2C640.7 1066.7 642.4 1071.2 644 1076.7C645.5 1082.2 646.5 1089.1 648.1 1095.3C649.6 1101.5 651.5 1107.7 653.2 1113.9C654.9 1120.1 656.5 1125.9 658.3 1132.5C660.2 1139 662.4 1146.3 664.5 1153.2C666.6 1160 668.6 1168 670.7 1173.8C672.7 1179.7 674.4 1183.8 676.8 1188.3C679.2 1192.8 682.3 1196.9 685.1 1200.7C687.8 1204.5 690.7 1207.9 693.3 1211C695.9 1214.1 698.7 1217.6 700.5 1219.3C702.3 1221 702.6 1222 704 1221.4C705.3 1220.7 707.1 1219.3 708.7 1215.2C710.3 1211 712.1 1204.5 713.8 1196.6C715.6 1188.6 717.4 1178 719 1167.6C720.5 1157.3 722 1144.5 723.1 1134.6C724.2 1124.6 725.1 1114.9 725.8 1107.7C726.4 1100.4 726.1 1096.3 727.2 1091.2C728.3 1086 731.5 1079.1 732.3 1076.7"/>
</g>
<g id="panel-F">
<text class="pl" x="835.2" y="895.6">F</text>
<path class="ax" d="M915.8 920.8V1251H1566.3"/>
<text x="890.1" y="928.9" text-anchor="end">6</text>
<text x="890.1" y="976.2" text-anchor="end">5</text>
<text x="890.1" y="1023.4" text-anchor="end">4</text>
<text x="890.1" y="1070.7" text-anchor="end">3</text>
<text x="890.1" y="1118" text-anchor="end">2</text>
<text x="890.1" y="1165.3" text-anchor="end">1</text>
<text x="890.1" y="1212.6" text-anchor="end">0</text>
<text x="890.1" y="1259.9" text-anchor="end">-1</text>
<text transform="translate(858.1 1090.1) rotate(-90)" text-anchor="middle" textLength="172.6" lengthAdjust="spacingAndGlyphs" style="font-size:29px;letter-spacing:0">Water level [m]</text>
<text x="912.1" y="1294.7" text-anchor="middle" style="letter-spacing:-1.04px">2014/9/22</text>
<text x="1074.7" y="1294.7" text-anchor="middle" style="letter-spacing:-1.04px">2014/9/23</text>
<text x="1237.3" y="1294.7" text-anchor="middle" style="letter-spacing:-1.04px">2014/9/23</text>
<text x="1400" y="1294.7" text-anchor="middle" style="letter-spacing:-1.04px">2014/9/24</text>
<text x="1562.6" y="1294.7" text-anchor="middle" style="letter-spacing:-1.04px">2014/9/24</text>
<text x="1196" y="1323.4">Date</text>
<text id="tF" x="984.6" y="951" style="letter-spacing:-0.757px">1416, YL</text>
<circle class="mk" cx="1293.7" cy="938" r="6.25"/>
<text x="1324.1" y="948.6" style="letter-spacing:-1.05px">measured</text>
<path class="cv lg" d="M1457 939.7H1506.6"/>
<text x="1512.2" y="948.6">simualted</text>
<g class="mk"><circle cx="914.9" cy="1084.3" r="6.25"/><circle cx="928.6" cy="1085.3" r="6.25"/><circle cx="942.6" cy="1103.6" r="6.25"/><circle cx="955.6" cy="1125.8" r="6.25"/><circle cx="969.1" cy="1140.6" r="6.25"/><circle cx="982.7" cy="1154" r="6.25"/><circle cx="996.5" cy="1169" r="6.25"/><circle cx="1010.2" cy="1183.8" r="6.25"/><circle cx="1023.8" cy="1191" r="6.25"/><circle cx="1037" cy="1169" r="6.25"/><circle cx="1050.5" cy="1113.5" r="6.25"/><circle cx="1064.3" cy="1077.1" r="6.25"/><circle cx="1077.7" cy="1071.3" r="6.25"/><circle cx="1091.4" cy="1072.3" r="6.25"/><circle cx="1105" cy="1087.1" r="6.25"/><circle cx="1118.2" cy="1106.3" r="6.25"/><circle cx="1131.7" cy="1127.8" r="6.25"/><circle cx="1145.5" cy="1144.9" r="6.25"/><circle cx="1159.3" cy="1163.8" r="6.25"/><circle cx="1172.8" cy="1177.8" r="6.25"/><circle cx="1186.6" cy="1188.9" r="6.25"/><circle cx="1200" cy="1188.1" r="6.25"/><circle cx="1212.7" cy="1135" r="6.25"/><circle cx="1226.7" cy="1092.9" r="6.25"/><circle cx="1240.1" cy="1073.4" r="6.25"/><circle cx="1254.1" cy="1075.8" r="6.25"/><circle cx="1267.9" cy="1089.8" r="6.25"/><circle cx="1281.7" cy="1108.3" r="6.25"/><circle cx="1294.6" cy="1131.3" r="6.25"/><circle cx="1308" cy="1151.9" r="6.25"/><circle cx="1322" cy="1172" r="6.25"/><circle cx="1335.3" cy="1188.9" r="6.25"/><circle cx="1349.1" cy="1202.5" r="6.25"/><circle cx="1362.5" cy="1209.5" r="6.25"/><circle cx="1375.8" cy="1180.9" r="6.25"/><circle cx="1389.2" cy="1119.2" r="6.25"/><circle cx="1402.9" cy="1087.3" r="6.25"/><circle cx="1416.5" cy="1086.3" r="6.25"/><circle cx="1430.7" cy="1094.3" r="6.25"/><circle cx="1444.3" cy="1117.6" r="6.25"/><circle cx="1457.4" cy="1139.8" r="6.25"/><circle cx="1470.8" cy="1157.7" r="6.25"/><circle cx="1484.3" cy="1178.2" r="6.25"/><circle cx="1498.1" cy="1194" r="6.25"/><circle cx="1511.5" cy="1208.6" r="6.25"/><circle cx="1525.2" cy="1217.7" r="6.25"/><circle cx="1538.6" cy="1207" r="6.25"/><circle cx="1551.6" cy="1139.8" r="6.25"/><circle cx="1565.5" cy="1090.8" r="6.25"/></g>
<path class="cv" d="M915.7 1081.6C916.5 1080.7 918.8 1077.9 920.4 1076.5C922.1 1075 924 1073.3 925.6 1073C927.1 1072.6 928.1 1072.8 929.7 1074.4C931.2 1076 932.9 1079.2 934.8 1082.6C936.7 1086 938.7 1090.5 941 1095C943.2 1099.4 945.6 1104.2 948.2 1109.3C950.7 1114.5 953.6 1120.6 956.4 1125.8C959.1 1130.9 961.9 1135.5 964.6 1140.2C967.4 1144.8 970.1 1149.3 972.8 1153.5C975.6 1157.8 978.3 1161.8 981.1 1165.9C983.8 1170 986.9 1174.9 989.3 1178.2C991.7 1181.5 993.4 1183.5 995.5 1185.4C997.5 1187.3 999.2 1188.5 1001.6 1189.5C1004 1190.5 1007.3 1191 1009.8 1191.6C1012.4 1192.1 1015 1192.6 1017 1192.6C1019.1 1192.6 1020.5 1193.1 1022.2 1191.6C1023.9 1190 1025.6 1186.8 1027.3 1183.3C1029 1179.9 1030.7 1175.5 1032.5 1171C1034.2 1166.6 1035.9 1162.1 1037.6 1156.6C1039.3 1151.1 1041 1144.3 1042.7 1138.1C1044.4 1132 1046.2 1125.1 1047.9 1119.6C1049.6 1114.1 1051.1 1110 1053 1105.2C1054.9 1100.4 1056.8 1095.6 1059.2 1090.8C1061.6 1086 1064.6 1080.6 1067.4 1076.5C1070.1 1072.3 1072.9 1069.3 1075.6 1066.2C1078.4 1063.1 1081.4 1059.8 1083.8 1058C1086.2 1056.1 1088.1 1055.1 1090 1054.9C1091.9 1054.6 1093.3 1055 1095.2 1056.5C1097 1058.1 1099.1 1060.8 1101.3 1064.1C1103.5 1067.4 1106.3 1072 1108.5 1076.5C1110.7 1080.9 1112.6 1086.4 1114.7 1090.8C1116.7 1095.3 1118.4 1098.7 1120.8 1103.2C1123.2 1107.6 1126.3 1112.4 1129.1 1117.6C1131.8 1122.7 1134.5 1128.9 1137.3 1134C1140 1139.2 1142.8 1143.9 1145.5 1148.4C1148.2 1152.9 1151 1157 1153.7 1160.7C1156.5 1164.5 1159.2 1167.9 1162 1171C1164.7 1174.1 1167.4 1177.1 1170.2 1179.2C1172.9 1181.4 1176 1182.9 1178.4 1183.8C1180.8 1184.6 1182.5 1184.8 1184.6 1184.4C1186.6 1184 1188.7 1183.2 1190.7 1181.3C1192.8 1179.4 1195 1176.8 1196.9 1173.1C1198.8 1169.3 1200.5 1164.2 1202 1158.7C1203.6 1153.2 1204.8 1146.7 1206.2 1140.2C1207.5 1133.7 1208.7 1125.8 1210.3 1119.6C1211.8 1113.5 1213.5 1108.3 1215.4 1103.2C1217.3 1098 1219.2 1093.2 1221.6 1088.8C1224 1084.3 1227.6 1078.7 1229.8 1076.5C1232 1074.2 1233.1 1076.8 1235 1075.4C1236.9 1074.1 1239.1 1070.8 1241.2 1068.2C1243.2 1065.7 1245.4 1062.1 1247.3 1060C1249.2 1057.9 1250.8 1056.1 1252.5 1055.9C1254.2 1055.7 1255.7 1056.6 1257.6 1059C1259.5 1061.4 1261.7 1066 1263.8 1070.3C1265.8 1074.6 1267.9 1079.5 1270 1084.7C1272 1089.8 1273.7 1095.6 1276.1 1101.1C1278.5 1106.6 1281.6 1112.4 1284.3 1117.6C1287.1 1122.7 1289.8 1126.8 1292.6 1132C1295.3 1137.1 1298 1143.3 1300.8 1148.4C1303.5 1153.5 1306.3 1158 1309 1162.8C1311.7 1167.6 1314.5 1172.7 1317.2 1177.2C1320 1181.6 1322.7 1185.7 1325.5 1189.5C1328.2 1193.3 1330.9 1196.5 1333.7 1199.8C1336.4 1203 1339.2 1206.5 1341.9 1209C1344.6 1211.6 1347.4 1213.5 1350.1 1215.2C1352.9 1216.9 1355.9 1219 1358.3 1219.3C1360.7 1219.7 1362.4 1218.8 1364.5 1217.3C1366.6 1215.7 1368.6 1213.7 1370.7 1210.1C1372.7 1206.5 1375.1 1200.8 1376.8 1195.7C1378.6 1190.5 1379.6 1185.4 1381 1179.2C1382.3 1173.1 1383.7 1165.2 1385.1 1158.7C1386.4 1152.2 1387.5 1146 1389.2 1140.2C1390.9 1134.3 1392.9 1128.5 1395.3 1123.7C1397.7 1118.9 1400.8 1114.5 1403.6 1111.4C1406.3 1108.3 1409 1106.9 1411.8 1105.2C1414.5 1103.5 1417.4 1102.1 1420 1101.1C1422.6 1100.1 1425.1 1098.5 1427.2 1099.1C1429.3 1099.6 1430.5 1101.1 1432.3 1104.2C1434.2 1107.3 1436.5 1112.9 1438.5 1117.6C1440.6 1122.2 1442.3 1126.8 1444.7 1132C1447.1 1137.1 1450.2 1143.3 1452.9 1148.4C1455.6 1153.5 1458.4 1158 1461.1 1162.8C1463.9 1167.6 1466.6 1172.7 1469.3 1177.2C1472.1 1181.6 1474.8 1185.4 1477.6 1189.5C1480.3 1193.6 1483 1198.1 1485.8 1201.8C1488.5 1205.6 1491.3 1208.9 1494 1212.1C1496.8 1215.4 1499.5 1219 1502.2 1221.4C1505 1223.8 1507.5 1224.9 1510.5 1226.5C1513.4 1228.1 1517 1230.5 1519.7 1231C1522.4 1231.5 1524.7 1231 1526.9 1229.6C1529.1 1228.2 1531 1225.7 1533.1 1222.4C1535.1 1219.1 1537.5 1214.5 1539.2 1210.1C1540.9 1205.6 1542 1201.5 1543.3 1195.7C1544.7 1189.9 1546.1 1182 1547.5 1175.1C1548.8 1168.3 1549.9 1161.4 1551.6 1154.6C1553.3 1147.7 1555.7 1139.8 1557.7 1134C1559.8 1128.2 1562.2 1123.4 1563.9 1119.6C1565.6 1115.9 1567.3 1112.8 1568 1111.4"/>
</g>
<g id="panel-G">
<text class="pl" x="7.8" y="1329.8">G</text>
<path class="ax" d="M88.3 1356.1V1686.3H738.9"/>
<text x="62.6" y="1364.2" text-anchor="end">6</text>
<text x="62.6" y="1411.5" text-anchor="end">5</text>
<text x="62.6" y="1458.8" text-anchor="end">4</text>
<text x="62.6" y="1506.1" text-anchor="end">3</text>
<text x="62.6" y="1553.3" text-anchor="end">2</text>
<text x="62.6" y="1600.6" text-anchor="end">1</text>
<text x="62.6" y="1647.9" text-anchor="end">0</text>
<text x="62.6" y="1695.2" text-anchor="end">-1</text>
<text transform="translate(30.7 1525.4) rotate(-90)" text-anchor="middle" textLength="172.6" lengthAdjust="spacingAndGlyphs" style="font-size:29px;letter-spacing:0">Water level [m]</text>
<text x="84.6" y="1730" text-anchor="middle" style="letter-spacing:-1.04px">2014/9/23</text>
<text x="247.3" y="1730" text-anchor="middle" style="letter-spacing:-1.04px">2014/9/23</text>
<text x="409.9" y="1730" text-anchor="middle" style="letter-spacing:-1.04px">2014/9/24</text>
<text x="572.5" y="1730" text-anchor="middle" style="letter-spacing:-1.04px">2014/9/24</text>
<text x="735.1" y="1730" text-anchor="middle" style="letter-spacing:-1.04px">2014/9/25</text>
<text x="368.5" y="1758">Date</text>
<text id="tG" x="160.4" y="1388.2" style="letter-spacing:-1.125px">1416, XLJ</text>
<circle class="mk" cx="466.2" cy="1373.3" r="6.25"/>
<text x="496.6" y="1383.9" style="letter-spacing:-1.05px">measured</text>
<path class="cv lg" d="M629.6 1375H679.1"/>
<text x="684.8" y="1383.9">simualted</text>
<g class="mk"><circle cx="87.6" cy="1516.6" r="6.25"/><circle cx="101.6" cy="1500.1" r="6.25"/><circle cx="115" cy="1503.6" r="6.25"/><circle cx="128.9" cy="1515.9" r="6.25"/><circle cx="142.7" cy="1533" r="6.25"/><circle cx="155" cy="1553.6" r="6.25"/><circle cx="168.8" cy="1572.5" r="6.25"/><circle cx="182.4" cy="1590.6" r="6.25"/><circle cx="196.1" cy="1603.9" r="6.25"/><circle cx="210.1" cy="1612.6" r="6.25"/><circle cx="223.9" cy="1612.6" r="6.25"/><circle cx="236.8" cy="1570" r="6.25"/><circle cx="250.2" cy="1529.3" r="6.25"/><circle cx="263.6" cy="1506.7" r="6.25"/><circle cx="277.3" cy="1503.6" r="6.25"/><circle cx="291.1" cy="1517.6" r="6.25"/><circle cx="305.1" cy="1537.1" r="6.25"/><circle cx="318" cy="1559.3" r="6.25"/><circle cx="331.2" cy="1579.9" r="6.25"/><circle cx="345.2" cy="1599.8" r="6.25"/><circle cx="358.9" cy="1615.2" r="6.25"/><circle cx="372.5" cy="1628" r="6.25"/><circle cx="386.3" cy="1636.8" r="6.25"/><circle cx="400.3" cy="1619.3" r="6.25"/><circle cx="413.1" cy="1561.8" r="6.25"/><circle cx="426.4" cy="1529.3" r="6.25"/><circle cx="440.4" cy="1516.6" r="6.25"/><circle cx="454.2" cy="1529.9" r="6.25"/><circle cx="468" cy="1545.8" r="6.25"/><circle cx="481.5" cy="1567.5" r="6.25"/><circle cx="494.3" cy="1587.1" r="6.25"/><circle cx="508.1" cy="1605.6" r="6.25"/><circle cx="521.6" cy="1621.4" r="6.25"/><circle cx="535.4" cy="1635.2" r="6.25"/><circle cx="548.8" cy="1644" r="6.25"/><circle cx="562.7" cy="1639.9" r="6.25"/><circle cx="575.5" cy="1576.2" r="6.25"/><circle cx="589.2" cy="1533" r="6.25"/><circle cx="602.8" cy="1510.4" r="6.25"/><circle cx="616.6" cy="1513.5" r="6.25"/><circle cx="630.6" cy="1532" r="6.25"/><circle cx="643.9" cy="1550.5" r="6.25"/><circle cx="657.7" cy="1572.5" r="6.25"/><circle cx="671.1" cy="1590" r="6.25"/><circle cx="684.8" cy="1607" r="6.25"/><circle cx="697.8" cy="1621.4" r="6.25"/><circle cx="711.6" cy="1632.3" r="6.25"/><circle cx="725.5" cy="1635.2" r="6.25"/></g>
<path class="cv" d="M88.2 1520.7C88.9 1519.6 90.8 1517.1 92.3 1514.5C93.9 1511.9 95.8 1507.3 97.5 1505.3C99.2 1503.2 100.9 1502.5 102.6 1502.2C104.3 1501.8 105.7 1501.8 107.8 1503.2C109.8 1504.6 112.4 1507.5 115 1510.4C117.5 1513.3 120.4 1516.6 123.2 1520.7C125.9 1524.8 128.6 1530.3 131.4 1535.1C134.1 1539.9 136.9 1545 139.6 1549.5C142.4 1553.9 144.8 1557.3 147.8 1561.8C150.9 1566.2 155 1572.1 158.1 1576.2C161.2 1580.3 163.6 1583.5 166.3 1586.5C169.1 1589.4 171.8 1591.4 174.6 1593.7C177.3 1595.9 180 1597.8 182.8 1599.8C185.5 1601.9 188.3 1604.3 191 1606C193.7 1607.7 196.5 1609 199.2 1610.1C202 1611.2 204.7 1612.1 207.4 1612.8C210.2 1613.4 213.4 1614.1 215.7 1614.2C217.9 1614.3 219.3 1614.6 220.8 1613.6C222.4 1612.6 223.4 1611.2 224.9 1608C226.5 1604.9 228.2 1599.6 230.1 1594.7C231.9 1589.7 234.2 1583.7 236.2 1578.2C238.3 1572.7 240.3 1567.3 242.4 1561.8C244.4 1556.3 246.5 1550.5 248.6 1545.3C250.6 1540.2 252.7 1535.4 254.7 1531C256.8 1526.5 258.8 1522 260.9 1518.6C262.9 1515.2 265 1512.4 267.1 1510.4C269.1 1508.4 271.2 1507.4 273.2 1506.7C275.3 1506 277.3 1505.9 279.4 1506.3C281.5 1506.6 283.5 1507.4 285.6 1508.8C287.6 1510.1 289.7 1511.8 291.7 1514.5C293.8 1517.2 295.8 1521 297.9 1524.8C300 1528.5 302 1533 304.1 1537.1C306.1 1541.2 307.8 1545 310.2 1549.5C312.6 1553.9 315.7 1559.4 318.4 1563.8C321.2 1568.3 323.9 1572.1 326.7 1576.2C329.4 1580.3 332.2 1584.4 334.9 1588.5C337.6 1592.6 340.4 1597.2 343.1 1600.8C345.9 1604.4 348.6 1607.2 351.3 1610.1C354.1 1613 356.8 1615.7 359.6 1618.3C362.3 1620.9 365 1623.5 367.8 1625.5C370.5 1627.6 373.3 1629.5 376 1630.7C378.8 1631.8 381.7 1632.1 384.2 1632.7C386.8 1633.3 389.4 1633.7 391.4 1634.1C393.5 1634.6 395 1635.6 396.6 1635.2C398.1 1634.8 399.3 1634.3 400.7 1631.7C402.1 1629 403.2 1623.8 404.8 1619.3C406.3 1614.9 408.4 1610.8 410 1605C411.6 1599.1 412.4 1591.3 414.1 1584.4C415.8 1577.5 418.2 1570 420.3 1563.8C422.3 1557.7 424.4 1552.2 426.4 1547.4C428.5 1542.6 430.7 1538.3 432.6 1535.1C434.5 1531.8 436.4 1529.3 437.8 1527.9C439.1 1526.4 439.6 1526.1 440.8 1526.4C442 1526.8 443.2 1527.6 444.9 1529.9C446.7 1532.2 448.7 1536.3 451.1 1540.2C453.5 1544.1 456.6 1549.3 459.3 1553.6C462.1 1557.8 464.8 1562.1 467.6 1565.9C470.3 1569.7 473 1572.7 475.8 1576.2C478.5 1579.6 481.3 1583 484 1586.5C486.7 1589.9 489.5 1593.5 492.2 1596.7C495 1600 497.7 1602.9 500.4 1606C503.2 1609.1 505.9 1612.5 508.7 1615.2C511.4 1618 514.1 1620 516.9 1622.4C519.6 1624.8 522.4 1627.4 525.1 1629.6C527.9 1631.8 530.6 1634.1 533.3 1635.8C536.1 1637.5 538.8 1638.9 541.6 1639.9C544.3 1640.9 547.2 1641.4 549.8 1642C552.4 1642.5 554.9 1643.3 557 1643C559 1642.6 560.6 1642.5 562.1 1639.9C563.7 1637.3 564.9 1632.7 566.2 1627.6C567.6 1622.4 569 1615.2 570.3 1609.1C571.7 1602.9 573.1 1596.4 574.5 1590.6C575.8 1584.7 577.2 1579.6 578.6 1574.1C579.9 1568.6 581.3 1562.8 582.7 1557.7C584 1552.5 585.4 1547.7 586.8 1543.3C588.1 1538.8 589.3 1535.1 590.9 1531C592.4 1526.8 594.3 1521.5 596 1518.6C597.7 1515.7 599.5 1514.5 601.2 1513.5C602.9 1512.5 604.6 1511.9 606.3 1512.5C608 1513 609.6 1514.5 611.5 1516.6C613.3 1518.6 615.6 1521.7 617.6 1524.8C619.7 1527.9 621.7 1531.6 623.8 1535.1C625.8 1538.5 627.6 1541.6 630 1545.3C632.3 1549.1 635.4 1553.7 638.2 1557.7C640.9 1561.6 643.7 1565.2 646.4 1569C649.1 1572.8 651.9 1576.3 654.6 1580.3C657.4 1584.2 660.1 1588.9 662.8 1592.6C665.6 1596.4 668.3 1599.5 671.1 1602.9C673.8 1606.3 676.5 1609.8 679.3 1613.2C682 1616.6 684.8 1620.2 687.5 1623.5C690.2 1626.7 693.3 1630.6 695.7 1632.7C698.1 1634.8 699.5 1635 701.9 1635.8C704.3 1636.5 707.4 1636.9 710.1 1637.2C712.9 1637.6 715.8 1637.8 718.3 1637.8C720.9 1637.8 724.3 1637.3 725.5 1637.2"/>
</g>
<g id="panel-H">
<text class="pl" x="835.2" y="1329.8">H</text>
<path class="ax" d="M915.8 1356.1V1686.3H1566.3"/>
<text x="890.1" y="1364.2" text-anchor="end">8</text>
<text x="890.1" y="1419.4" text-anchor="end">6</text>
<text x="890.1" y="1474.5" text-anchor="end">4</text>
<text x="890.1" y="1529.7" text-anchor="end">2</text>
<text x="890.1" y="1584.9" text-anchor="end">0</text>
<text x="890.1" y="1640" text-anchor="end">-2</text>
<text x="890.1" y="1695.2" text-anchor="end">-4</text>
<text transform="translate(858.1 1525.4) rotate(-90)" text-anchor="middle" textLength="172.6" lengthAdjust="spacingAndGlyphs" style="font-size:29px;letter-spacing:0">Water level [m]</text>
<text x="912.8" y="1728.6" text-anchor="middle" style="letter-spacing:-1.0px">2019/8/8</text>
<text x="1075.4" y="1728.6" text-anchor="middle" style="letter-spacing:-1.0px">2019/8/9</text>
<text x="1238" y="1728.6" text-anchor="middle" style="letter-spacing:-1.0px">2019/8/9</text>
<text x="1400.6" y="1728.6" text-anchor="middle" style="letter-spacing:-0.89px">2019/8/10</text>
<text x="1563.2" y="1728.6" text-anchor="middle" style="letter-spacing:-0.89px">2019/8/10</text>
<text x="1196" y="1758">Date</text>
<text id="tH" x="988.4" y="1386.7" style="letter-spacing:-1.029px">1909, KP</text>
<circle class="mk" cx="1293.7" cy="1373.3" r="6.25"/>
<text x="1324.1" y="1383.9" style="letter-spacing:-1.05px">measured</text>
<path class="cv lg" d="M1457 1375H1506.6"/>
<text x="1512.2" y="1383.9">simualted</text>
<g class="mk"><circle cx="915.7" cy="1635.2" r="6.25"/><circle cx="929.3" cy="1643.4" r="6.25"/><circle cx="941" cy="1616.3" r="6.25"/><circle cx="955.4" cy="1559.3" r="6.25"/><circle cx="969.8" cy="1513.5" r="6.25"/><circle cx="982.1" cy="1480.6" r="6.25"/><circle cx="996.5" cy="1469.3" r="6.25"/><circle cx="1010.9" cy="1469.9" r="6.25"/><circle cx="1023.2" cy="1498.7" r="6.25"/><circle cx="1038.2" cy="1534" r="6.25"/><circle cx="1051" cy="1566.5" r="6.25"/><circle cx="1065.3" cy="1593" r="6.25"/><circle cx="1078.3" cy="1611.5" r="6.25"/><circle cx="1092.1" cy="1622.4" r="6.25"/><circle cx="1104.8" cy="1609.1" r="6.25"/><circle cx="1118.8" cy="1569.4" r="6.25"/><circle cx="1132.6" cy="1524.8" r="6.25"/><circle cx="1147.6" cy="1492.9" r="6.25"/><circle cx="1157.8" cy="1476.5" r="6.25"/><circle cx="1172.2" cy="1480.2" r="6.25"/><circle cx="1188.1" cy="1500.7" r="6.25"/><circle cx="1201" cy="1532" r="6.25"/><circle cx="1213.8" cy="1565.3" r="6.25"/><circle cx="1227.7" cy="1591" r="6.25"/><circle cx="1240.1" cy="1610.1" r="6.25"/><circle cx="1254.1" cy="1613.8" r="6.25"/><circle cx="1267.9" cy="1610.5" r="6.25"/><circle cx="1280.6" cy="1568.4" r="6.25"/><circle cx="1294.6" cy="1523.1" r="6.25"/><circle cx="1307" cy="1485.7" r="6.25"/><circle cx="1320.3" cy="1464.1" r="6.25"/><circle cx="1335.1" cy="1448.3" r="6.25"/><circle cx="1347.4" cy="1452.4" r="6.25"/><circle cx="1362.5" cy="1474.8" r="6.25"/><circle cx="1377.2" cy="1497.4" r="6.25"/><circle cx="1389.6" cy="1534" r="6.25"/><circle cx="1402.5" cy="1556.2" r="6.25"/><circle cx="1415.9" cy="1570" r="6.25"/><circle cx="1427.8" cy="1564.5" r="6.25"/><circle cx="1442.6" cy="1554.6" r="6.25"/><circle cx="1455.6" cy="1525.2" r="6.25"/><circle cx="1470" cy="1495.6" r="6.25"/><circle cx="1483.3" cy="1475" r="6.25"/><circle cx="1496.7" cy="1465.6" r="6.25"/><circle cx="1509.4" cy="1470.3" r="6.25"/><circle cx="1524.2" cy="1487.8" r="6.25"/><circle cx="1536.8" cy="1515.5" r="6.25"/><circle cx="1551.6" cy="1541.2" r="6.25"/><circle cx="1565.3" cy="1562.8" r="6.25"/></g>
<path class="cv" d="M915.7 1629.6C916.5 1630.1 918.6 1631.9 920.4 1632.7C922.2 1633.5 924.4 1634.3 926.6 1634.3C928.8 1634.3 931.4 1633.7 933.8 1632.7C936.2 1631.7 938.9 1630.3 941 1628.6C943 1626.9 944.6 1625.3 946.1 1622.4C947.7 1619.5 948.9 1615.7 950.2 1611.1C951.6 1606.5 953 1600.5 954.3 1594.7C955.7 1588.8 957.2 1582.3 958.5 1576.2C959.7 1570 960.5 1563.8 961.5 1557.7C962.6 1551.5 963.4 1545.3 964.6 1539.2C965.8 1533 967.3 1526.5 968.7 1520.7C970.1 1514.8 971.5 1509.4 972.8 1504.2C974.2 1499.1 975.4 1494.3 977 1489.8C978.5 1485.4 980.4 1481.1 982.1 1477.5C983.8 1473.9 985.5 1470.6 987.2 1468.2C988.9 1465.9 990.8 1464.1 992.4 1463.1C993.9 1462.1 994.8 1461.9 996.5 1462.1C998.2 1462.3 1000.4 1462.9 1002.6 1464.1C1004.9 1465.3 1007.3 1466.9 1009.8 1469.3C1012.4 1471.7 1015.3 1474.8 1018.1 1478.5C1020.8 1482.3 1023.9 1486.9 1026.3 1491.9C1028.7 1496.9 1030.4 1502.5 1032.5 1508.3C1034.5 1514.2 1036.6 1520.3 1038.6 1526.8C1040.7 1533.3 1042.7 1541.2 1044.8 1547.4C1046.8 1553.6 1048.9 1558.7 1051 1563.8C1053 1569 1055.1 1573.8 1057.1 1578.2C1059.2 1582.7 1061.2 1586.8 1063.3 1590.6C1065.3 1594.3 1067.1 1597.6 1069.5 1600.8C1071.8 1604.1 1074.9 1607.5 1077.7 1610.1C1080.4 1612.7 1083.1 1614.5 1085.9 1616.3C1088.6 1618 1091.4 1619.9 1094.1 1620.4C1096.9 1620.8 1099.9 1620 1102.3 1618.9C1104.7 1617.9 1106.8 1616.2 1108.5 1614.2C1110.2 1612.2 1111.4 1610.3 1112.6 1607C1113.8 1603.8 1114.7 1599.5 1115.7 1594.7C1116.7 1589.9 1117.8 1583.7 1118.8 1578.2C1119.8 1572.7 1120.7 1567.6 1121.9 1561.8C1123.1 1556 1124.4 1549.4 1126 1543.3C1127.5 1537.1 1129.2 1530.9 1131.1 1524.8C1133 1518.6 1135.2 1511.4 1137.3 1506.3C1139.3 1501.1 1141.7 1497 1143.5 1494C1145.2 1490.9 1146.4 1490.9 1147.6 1487.8C1148.8 1484.7 1149.5 1479 1150.7 1475.5C1151.9 1471.9 1153.2 1468.4 1154.8 1466.2C1156.3 1464 1158 1462.7 1159.9 1462.1C1161.8 1461.5 1163.7 1461.8 1166.1 1462.5C1168.5 1463.2 1171.5 1464.2 1174.3 1466.2C1177 1468.2 1179.8 1470.8 1182.5 1474.4C1185.2 1478 1188.3 1483.2 1190.7 1487.8C1193.1 1492.4 1195 1497 1196.9 1502.2C1198.8 1507.3 1200.3 1513.1 1202 1518.6C1203.8 1524.1 1205.6 1530.3 1207.2 1535.1C1208.7 1539.9 1209.6 1543.3 1211.3 1547.4C1213 1551.5 1215.4 1555.3 1217.5 1559.7C1219.5 1564.2 1221.7 1569.3 1223.6 1574.1C1225.5 1578.9 1226.9 1584.6 1228.8 1588.5C1230.7 1592.5 1232.9 1594.8 1235 1597.8C1237.1 1600.7 1239.1 1603.6 1241.2 1606C1243.2 1608.4 1244.9 1610.3 1247.3 1612.2C1249.7 1614 1252.8 1616.3 1255.6 1617.3C1258.3 1618.3 1261 1618.7 1263.8 1618.3C1266.5 1618 1269.6 1616.6 1272 1615.2C1274.4 1613.9 1276.5 1612.5 1278.2 1610.1C1279.9 1607.7 1281.1 1604.8 1282.3 1600.8C1283.5 1596.9 1284 1591.2 1285.4 1586.5C1286.7 1581.7 1288.8 1577.2 1290.5 1572.1C1292.2 1566.9 1294.1 1561.1 1295.6 1555.6C1297.2 1550.1 1298.4 1545.3 1299.8 1539.2C1301.1 1533 1302.3 1525.5 1303.9 1518.6C1305.4 1511.8 1307.1 1504.6 1309 1498.1C1310.9 1491.5 1313.1 1485 1315.2 1479.6C1317.2 1474.1 1319.3 1469.3 1321.3 1465.2C1323.4 1461.1 1325.4 1457.4 1327.5 1454.9C1329.6 1452.4 1331.6 1451.2 1333.7 1450.2C1335.7 1449.1 1337.4 1448.7 1339.8 1448.7C1342.2 1448.7 1345.7 1449.1 1348.1 1450.2C1350.5 1451.2 1352.2 1452.4 1354.2 1454.9C1356.3 1457.4 1358.3 1460.7 1360.4 1465.2C1362.4 1469.6 1364.5 1475.8 1366.6 1481.6C1368.6 1487.4 1370.7 1494.3 1372.7 1500.1C1374.8 1505.9 1376.8 1511.1 1378.9 1516.6C1380.9 1522 1383 1527.9 1385.1 1533C1387.1 1538.2 1389.2 1542.9 1391.2 1547.4C1393.3 1551.9 1395.3 1555.8 1397.4 1559.7C1399.4 1563.7 1401.2 1567.4 1403.6 1571C1406 1574.6 1409 1578.6 1411.8 1581.3C1414.5 1584 1417.3 1585.9 1420 1587.5C1422.8 1589.1 1425.7 1590.1 1428.2 1591C1430.8 1591.8 1433.2 1592.7 1435.4 1592.6C1437.6 1592.6 1439.5 1591.8 1441.6 1590.6C1443.6 1589.4 1445.7 1587.8 1447.8 1585.4C1449.8 1583 1452.2 1579.4 1453.9 1576.2C1455.6 1572.9 1457 1569.7 1458 1565.9C1459.1 1562.1 1459.5 1557.7 1460.1 1553.6C1460.7 1549.4 1460.9 1545.7 1461.7 1541.2C1462.6 1536.8 1463.6 1532 1465.2 1526.8C1466.8 1521.7 1469.3 1515.9 1471.4 1510.4C1473.5 1504.9 1475.5 1499.4 1477.6 1494C1479.6 1488.5 1481.7 1482.5 1483.7 1477.5C1485.8 1472.5 1487.7 1467.6 1489.9 1464.1C1492.1 1460.7 1494.7 1458.7 1497.1 1457C1499.5 1455.2 1501.9 1454.1 1504.3 1453.9C1506.7 1453.6 1509.1 1454.1 1511.5 1455.3C1513.9 1456.5 1516.1 1458 1518.7 1461.1C1521.2 1464.1 1524.2 1468.3 1526.9 1473.4C1529.6 1478.5 1532.4 1485.4 1535.1 1491.9C1537.9 1498.4 1540.6 1505.3 1543.3 1512.5C1546.1 1519.6 1548.8 1527.9 1551.6 1535.1C1554.3 1542.3 1557 1550 1559.8 1555.6C1562.5 1561.3 1566.6 1566.8 1568 1569"/>
</g>
<g id="panel-I">
<text class="pl" x="7.8" y="1764">I</text>
<path class="ax" d="M88.3 1792.1V2122.3H738.9"/>
<text x="62.6" y="1800.2" text-anchor="end">8</text>
<text x="62.6" y="1855.4" text-anchor="end">6</text>
<text x="62.6" y="1910.5" text-anchor="end">4</text>
<text x="62.6" y="1965.7" text-anchor="end">2</text>
<text x="62.6" y="2020.9" text-anchor="end">0</text>
<text x="62.6" y="2076" text-anchor="end">-2</text>
<text x="62.6" y="2131.2" text-anchor="end">-4</text>
<text transform="translate(30.7 1961.4) rotate(-90)" text-anchor="middle" textLength="172.6" lengthAdjust="spacingAndGlyphs" style="font-size:29px;letter-spacing:0">Water level [m]</text>
<text x="85.3" y="2164.3" text-anchor="middle" style="letter-spacing:-1.0px">2019/8/8</text>
<text x="248" y="2164.3" text-anchor="middle" style="letter-spacing:-1.0px">2019/8/9</text>
<text x="410.6" y="2164.3" text-anchor="middle" style="letter-spacing:-1.0px">2019/8/9</text>
<text x="573.1" y="2164.3" text-anchor="middle" style="letter-spacing:-0.89px">2019/8/10</text>
<text x="735.8" y="2164.3" text-anchor="middle" style="letter-spacing:-0.89px">2019/8/10</text>
<text x="368.5" y="2193.3">Date</text>
<text id="tI" x="151.4" y="1822.7" style="letter-spacing:-1.014px">1909, ZP</text>
<circle class="mk" cx="466.2" cy="1809.3" r="6.25"/>
<text x="496.6" y="1819.9" style="letter-spacing:-1.05px">measured</text>
<path class="cv lg" d="M629.6 1811H679.1"/>
<text x="684.8" y="1819.9">simualted</text>
<g class="mk"><circle cx="102.6" cy="2061.9" r="6.25"/><circle cx="114.3" cy="2022" r="6.25"/><circle cx="128.9" cy="1979.7" r="6.25"/><circle cx="143.1" cy="1947.4" r="6.25"/><circle cx="156.7" cy="1927.3" r="6.25"/><circle cx="169.4" cy="1920.1" r="6.25"/><circle cx="183.2" cy="1931.6" r="6.25"/><circle cx="198.2" cy="1953.6" r="6.25"/><circle cx="209.9" cy="1984.4" r="6.25"/><circle cx="224.5" cy="2012.2" r="6.25"/><circle cx="237.3" cy="2035.8" r="6.25"/><circle cx="250" cy="2048.6" r="6.25"/><circle cx="263.4" cy="2047.1" r="6.25"/><circle cx="278.4" cy="2024.5" r="6.25"/><circle cx="290.1" cy="1988.5" r="6.25"/><circle cx="305.1" cy="1957.3" r="6.25"/><circle cx="317.8" cy="1936.5" r="6.25"/><circle cx="331.4" cy="1930.4" r="6.25"/><circle cx="346.2" cy="1937.8" r="6.25"/><circle cx="360" cy="1954.2" r="6.25"/><circle cx="372.9" cy="1984.4" r="6.25"/><circle cx="386.3" cy="2012.2" r="6.25"/><circle cx="400.3" cy="2033.8" r="6.25"/><circle cx="413.1" cy="2049.2" r="6.25"/><circle cx="427.1" cy="2048.2" r="6.25"/><circle cx="441.4" cy="2024.9" r="6.25"/><circle cx="454.2" cy="1992.7" r="6.25"/><circle cx="468.2" cy="1960.2" r="6.25"/><circle cx="480.9" cy="1933.4" r="6.25"/><circle cx="494.7" cy="1917" r="6.25"/><circle cx="508.3" cy="1909.4" r="6.25"/><circle cx="522" cy="1911" r="6.25"/><circle cx="536" cy="1927.5" r="6.25"/><circle cx="549.2" cy="1954.2" r="6.25"/><circle cx="561.7" cy="1979.7" r="6.25"/><circle cx="576.1" cy="2000.2" r="6.25"/><circle cx="589.2" cy="2008.1" r="6.25"/><circle cx="602.6" cy="2004.6" r="6.25"/><circle cx="615.6" cy="1988.5" r="6.25"/><circle cx="631.4" cy="1964.3" r="6.25"/><circle cx="645" cy="1941.7" r="6.25"/><circle cx="656.7" cy="1926.5" r="6.25"/><circle cx="669.6" cy="1923.2" r="6.25"/><circle cx="685" cy="1927.5" r="6.25"/><circle cx="699.8" cy="1944.3" r="6.25"/><circle cx="711.8" cy="1964.9" r="6.25"/><circle cx="725.5" cy="1986.9" r="6.25"/></g>
<path class="cv" d="M88.2 2064C89.1 2064.3 91.3 2065.7 93.4 2065.6C95.4 2065.5 98.2 2064.8 100.6 2063.6C103 2062.4 105.7 2060.8 107.8 2058.4C109.8 2056 111.3 2053.5 112.9 2049.2C114.4 2044.9 115.5 2038.2 117 2032.7C118.5 2027.2 120.4 2021.8 122.1 2016.3C123.9 2010.8 125.7 2005.3 127.3 1999.8C128.8 1994.4 130 1988.9 131.4 1983.4C132.8 1977.9 134.1 1972.1 135.5 1967C136.9 1961.8 137.9 1957 139.6 1952.6C141.3 1948.1 143.7 1943.8 145.8 1940.2C147.8 1936.6 149.6 1933.7 151.9 1931C154.3 1928.2 157.4 1925.6 160.2 1923.8C162.9 1922 166 1920.6 168.4 1920.1C170.8 1919.6 172.2 1919.7 174.6 1920.7C177 1921.7 180 1923.3 182.8 1925.8C185.5 1928.4 188.3 1932 191 1936.1C193.7 1940.2 196.8 1945.7 199.2 1950.5C201.6 1955.3 203.3 1959.4 205.4 1964.9C207.4 1970.4 209.5 1977.9 211.6 1983.4C213.6 1988.9 215.7 1993.3 217.7 1997.8C219.8 2002.2 221.5 2005.7 223.9 2010.1C226.3 2014.6 229.4 2019.9 232.1 2024.5C234.9 2029.1 237.6 2034.1 240.3 2037.9C243.1 2041.6 245.8 2044.7 248.6 2047.1C251.3 2049.5 254.7 2051.2 256.8 2052.3C258.8 2053.4 259.2 2053.9 260.9 2053.7C262.6 2053.5 265 2052.7 267.1 2051.2C269.1 2049.8 271.2 2047.5 273.2 2045.1C275.3 2042.7 277.3 2040.3 279.4 2036.8C281.5 2033.4 283.5 2029.6 285.6 2024.5C287.6 2019.4 289.7 2012.5 291.7 2006C293.8 1999.5 295.8 1992 297.9 1985.5C300 1978.9 302.2 1972.4 304.1 1967C305.9 1961.5 307.7 1957 309.2 1952.6C310.7 1948.1 311.8 1943.7 313.3 1940.2C314.9 1936.8 316.6 1934.6 318.4 1932C320.3 1929.4 322.6 1926.9 324.6 1924.8C326.7 1922.8 328.9 1920.7 330.8 1919.7C332.7 1918.6 333.9 1918.5 335.9 1918.6C338 1918.8 340.6 1919.5 343.1 1920.7C345.7 1921.9 348.6 1923.3 351.3 1925.8C354.1 1928.4 356.8 1931.3 359.6 1936.1C362.3 1940.9 365 1948.5 367.8 1954.6C370.5 1960.8 373.3 1967 376 1973.1C378.8 1979.3 381.5 1985.1 384.2 1991.6C387 1998.1 389.7 2006.2 392.4 2012.2C395.2 2018.2 397.8 2023.1 400.7 2027.6C403.6 2032 407.4 2035.5 410 2038.9C412.6 2042.3 413.9 2045.6 416.2 2048.2C418.4 2050.7 421 2053 423.4 2054.3C425.8 2055.6 428 2055.9 430.6 2055.8C433.1 2055.6 436.4 2055 438.8 2053.7C441.2 2052.4 443.2 2051 444.9 2048.2C446.7 2045.3 447.7 2041.1 449.1 2036.8C450.4 2032.6 451.5 2027.6 453.2 2022.5C454.9 2017.3 457.3 2011.5 459.3 2006C461.4 2000.5 463.6 1995 465.5 1989.6C467.4 1984.1 468.9 1978.9 470.6 1973.1C472.4 1967.3 474.1 1960.4 475.8 1954.6C477.5 1948.8 479 1943 480.9 1938.2C482.8 1933.4 484.9 1929.6 487.1 1925.8C489.3 1922.1 491.9 1918.8 494.3 1915.6C496.7 1912.3 499.3 1908.4 501.5 1906.3C503.7 1904.3 505.4 1903.4 507.6 1903.2C509.9 1903.1 512.4 1904.3 514.8 1905.3C517.2 1906.3 519.8 1907.7 522 1909.4C524.3 1911.1 526 1912.5 528.2 1915.6C530.4 1918.6 532.8 1923.1 535.4 1927.9C538 1932.7 540.9 1938.5 543.6 1944.3C546.4 1950.2 549.1 1956.7 551.8 1962.8C554.6 1969 557.3 1975.9 560.1 1981.3C562.8 1986.8 565.5 1991.1 568.3 1995.7C571 2000.4 573.8 2005 576.5 2009.1C579.3 2013.2 582 2017.3 584.7 2020.4C587.5 2023.5 590.2 2025.9 593 2027.6C595.7 2029.3 598.8 2030.3 601.2 2030.7C603.6 2031 605.3 2030.7 607.3 2029.7C609.4 2028.6 611.5 2026.9 613.5 2024.5C615.6 2022.1 617.6 2019 619.7 2015.3C621.7 2011.5 623.8 2006.9 625.8 2001.9C627.9 1996.9 630 1990.9 632 1985.5C634.1 1980 636.1 1974.1 638.2 1969C640.2 1963.9 642.3 1959.1 644.3 1954.6C646.4 1950.2 648.5 1946.2 650.5 1942.3C652.6 1938.3 654.6 1934.4 656.7 1931C658.7 1927.6 660.8 1924.3 662.8 1921.7C664.9 1919.2 667 1917.1 669 1915.6C671.1 1914 673.1 1912.7 675.2 1912.5C677.2 1912.3 679.1 1913.3 681.3 1914.5C683.6 1915.7 686.1 1917.1 688.5 1919.7C690.9 1922.2 693.2 1925.2 695.7 1930C698.3 1934.7 701.2 1942.6 704 1948.5C706.7 1954.3 709.4 1959.8 712.2 1964.9C714.9 1970 717.7 1974.5 720.4 1979.3C723.1 1984.1 725.9 1989 728.6 1993.7C731.4 1998.3 734.8 2003.6 736.8 2007C738.9 2010.5 740.3 2013 741 2014.2"/>
</g>
</svg></body></html>
